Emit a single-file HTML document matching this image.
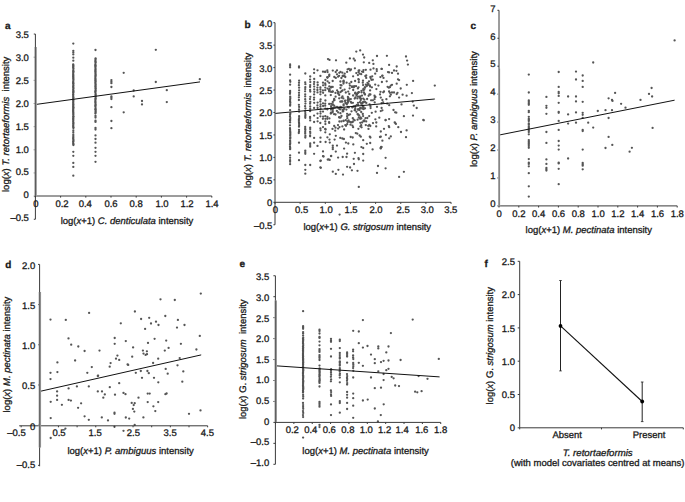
<!DOCTYPE html>
<html><head><meta charset="utf-8"><style>
html,body{margin:0;padding:0;background:#fff;}
svg{display:block;}
text{font-family:"Liberation Sans", sans-serif;fill:#1a1a1a;stroke:#1a1a1a;stroke-width:0.3px;text-rendering:geometricPrecision;}
</style></head><body>
<svg width="685" height="502" viewBox="0 0 685 502">
<rect width="685" height="502" fill="#fff"/>
<g fill="#555555"><circle cx="73.3" cy="43.6" r="1.15"/><circle cx="73.3" cy="50.8" r="1.15"/><circle cx="73.3" cy="52.4" r="1.15"/><circle cx="73.3" cy="54.4" r="1.15"/><circle cx="73.3" cy="57.7" r="1.15"/><circle cx="73.3" cy="60.7" r="1.15"/><circle cx="73.3" cy="130.3" r="1.15"/><circle cx="73.3" cy="132.2" r="1.15"/><circle cx="73.3" cy="134.3" r="1.15"/><circle cx="73.3" cy="136.0" r="1.15"/><circle cx="73.3" cy="151.8" r="1.15"/><circle cx="73.3" cy="155.8" r="1.15"/><circle cx="73.3" cy="162.9" r="1.15"/><circle cx="73.3" cy="166.9" r="1.15"/><circle cx="73.3" cy="175.7" r="1.15"/><circle cx="95.5" cy="50.0" r="1.15"/><circle cx="95.5" cy="115.9" r="1.15"/><circle cx="95.5" cy="117.5" r="1.15"/><circle cx="95.5" cy="120.7" r="1.15"/><circle cx="95.5" cy="121.9" r="1.15"/><circle cx="95.5" cy="127.9" r="1.15"/><circle cx="95.5" cy="129.5" r="1.15"/><circle cx="95.5" cy="135.4" r="1.15"/><circle cx="95.5" cy="139.0" r="1.15"/><circle cx="95.5" cy="142.7" r="1.15"/><circle cx="95.5" cy="147.8" r="1.15"/><circle cx="95.5" cy="151.8" r="1.15"/><circle cx="95.5" cy="155.8" r="1.15"/><circle cx="95.5" cy="161.8" r="1.15"/><circle cx="111.4" cy="80.1" r="1.15"/><circle cx="111.4" cy="81.7" r="1.15"/><circle cx="111.4" cy="83.2" r="1.15"/><circle cx="111.4" cy="87.0" r="1.15"/><circle cx="111.4" cy="96.4" r="1.15"/><circle cx="111.4" cy="97.7" r="1.15"/><circle cx="111.4" cy="99.1" r="1.15"/><circle cx="111.4" cy="107.2" r="1.15"/><circle cx="111.4" cy="121.0" r="1.15"/><circle cx="111.4" cy="128.2" r="1.15"/><circle cx="123.7" cy="72.8" r="1.15"/><circle cx="123.7" cy="112.3" r="1.15"/><circle cx="133.7" cy="90.5" r="1.15"/><circle cx="133.7" cy="96.4" r="1.15"/><circle cx="142.0" cy="101.0" r="1.15"/><circle cx="142.0" cy="104.4" r="1.15"/><circle cx="155.8" cy="49.8" r="1.15"/><circle cx="155.8" cy="82.0" r="1.15"/><circle cx="166.8" cy="90.2" r="1.15"/><circle cx="166.8" cy="102.1" r="1.15"/><circle cx="199.8" cy="79.2" r="1.15"/><circle cx="290.1" cy="64.3" r="1.15"/><circle cx="290.1" cy="65.8" r="1.15"/><circle cx="290.1" cy="67.3" r="1.15"/><circle cx="290.1" cy="74.7" r="1.15"/><circle cx="290.1" cy="155.4" r="1.15"/><circle cx="290.1" cy="157.8" r="1.15"/><circle cx="290.1" cy="160.2" r="1.15"/><circle cx="290.1" cy="161.8" r="1.15"/><circle cx="290.1" cy="164.2" r="1.15"/><circle cx="299.0" cy="66.4" r="1.15"/><circle cx="299.0" cy="67.5" r="1.15"/><circle cx="299.1" cy="80.7" r="1.15"/><circle cx="299.0" cy="82.8" r="1.15"/><circle cx="298.9" cy="85.2" r="1.15"/><circle cx="299.1" cy="87.7" r="1.15"/><circle cx="299.1" cy="90.3" r="1.15"/><circle cx="299.0" cy="92.8" r="1.15"/><circle cx="299.0" cy="95.2" r="1.15"/><circle cx="298.9" cy="97.3" r="1.15"/><circle cx="298.9" cy="100.0" r="1.15"/><circle cx="298.9" cy="104.8" r="1.15"/><circle cx="299.1" cy="106.9" r="1.15"/><circle cx="299.0" cy="109.5" r="1.15"/><circle cx="299.1" cy="111.7" r="1.15"/><circle cx="299.0" cy="142.7" r="1.15"/><circle cx="299.0" cy="152.7" r="1.15"/><circle cx="299.0" cy="160.2" r="1.15"/><circle cx="305.3" cy="73.5" r="1.15"/><circle cx="305.2" cy="82.3" r="1.15"/><circle cx="305.4" cy="84.2" r="1.15"/><circle cx="305.3" cy="87.2" r="1.15"/><circle cx="305.2" cy="89.1" r="1.15"/><circle cx="305.1" cy="91.3" r="1.15"/><circle cx="305.2" cy="94.3" r="1.15"/><circle cx="305.2" cy="96.4" r="1.15"/><circle cx="305.2" cy="99.2" r="1.15"/><circle cx="305.4" cy="101.3" r="1.15"/><circle cx="305.4" cy="103.6" r="1.15"/><circle cx="305.1" cy="106.2" r="1.15"/><circle cx="305.4" cy="108.5" r="1.15"/><circle cx="305.1" cy="111.1" r="1.15"/><circle cx="305.2" cy="127.0" r="1.15"/><circle cx="305.2" cy="128.8" r="1.15"/><circle cx="305.3" cy="130.0" r="1.15"/><circle cx="305.2" cy="132.0" r="1.15"/><circle cx="305.2" cy="133.7" r="1.15"/><circle cx="305.4" cy="135.9" r="1.15"/><circle cx="305.3" cy="137.5" r="1.15"/><circle cx="305.3" cy="150.6" r="1.15"/><circle cx="305.3" cy="152.2" r="1.15"/><circle cx="305.3" cy="153.8" r="1.15"/><circle cx="305.3" cy="165.0" r="1.15"/><circle cx="305.3" cy="169.8" r="1.15"/><circle cx="305.3" cy="173.7" r="1.15"/><circle cx="310.2" cy="76.5" r="1.15"/><circle cx="310.1" cy="79.6" r="1.15"/><circle cx="310.3" cy="82.1" r="1.15"/><circle cx="310.2" cy="85.1" r="1.15"/><circle cx="310.1" cy="87.0" r="1.15"/><circle cx="310.1" cy="90.0" r="1.15"/><circle cx="310.3" cy="91.6" r="1.15"/><circle cx="310.3" cy="96.8" r="1.15"/><circle cx="310.0" cy="99.1" r="1.15"/><circle cx="310.3" cy="101.9" r="1.15"/><circle cx="310.1" cy="103.7" r="1.15"/><circle cx="310.2" cy="106.5" r="1.15"/><circle cx="310.2" cy="108.9" r="1.15"/><circle cx="310.1" cy="111.2" r="1.15"/><circle cx="310.1" cy="116.9" r="1.15"/><circle cx="310.1" cy="118.1" r="1.15"/><circle cx="310.2" cy="120.4" r="1.15"/><circle cx="310.2" cy="127.6" r="1.15"/><circle cx="310.2" cy="129.1" r="1.15"/><circle cx="310.1" cy="131.7" r="1.15"/><circle cx="310.3" cy="133.1" r="1.15"/><circle cx="310.1" cy="135.3" r="1.15"/><circle cx="310.1" cy="136.3" r="1.15"/><circle cx="310.2" cy="143.5" r="1.15"/><circle cx="310.2" cy="145.1" r="1.15"/><circle cx="310.2" cy="146.7" r="1.15"/><circle cx="310.2" cy="165.0" r="1.15"/><circle cx="314.1" cy="69.3" r="1.15"/><circle cx="314.1" cy="72.9" r="1.15"/><circle cx="314.2" cy="78.9" r="1.15"/><circle cx="314.2" cy="81.9" r="1.15"/><circle cx="314.0" cy="84.1" r="1.15"/><circle cx="314.2" cy="86.6" r="1.15"/><circle cx="314.2" cy="89.4" r="1.15"/><circle cx="314.3" cy="91.8" r="1.15"/><circle cx="314.1" cy="94.4" r="1.15"/><circle cx="314.1" cy="97.6" r="1.15"/><circle cx="314.0" cy="99.6" r="1.15"/><circle cx="314.2" cy="102.8" r="1.15"/><circle cx="314.1" cy="108.0" r="1.15"/><circle cx="314.1" cy="115.6" r="1.15"/><circle cx="314.1" cy="122.0" r="1.15"/><circle cx="314.1" cy="137.9" r="1.15"/><circle cx="314.1" cy="142.7" r="1.15"/><circle cx="314.1" cy="153.8" r="1.15"/><circle cx="317.5" cy="70.3" r="1.15"/><circle cx="317.6" cy="82.4" r="1.15"/><circle cx="317.7" cy="85.0" r="1.15"/><circle cx="317.4" cy="87.6" r="1.15"/><circle cx="317.4" cy="90.0" r="1.15"/><circle cx="317.5" cy="92.4" r="1.15"/><circle cx="317.6" cy="102.6" r="1.15"/><circle cx="317.4" cy="105.4" r="1.15"/><circle cx="317.6" cy="108.0" r="1.15"/><circle cx="317.5" cy="113.6" r="1.15"/><circle cx="317.6" cy="118.1" r="1.15"/><circle cx="317.6" cy="121.3" r="1.15"/><circle cx="317.5" cy="145.9" r="1.15"/><circle cx="320.4" cy="75.9" r="1.15"/><circle cx="320.4" cy="87.5" r="1.15"/><circle cx="320.4" cy="89.5" r="1.15"/><circle cx="320.5" cy="91.9" r="1.15"/><circle cx="320.4" cy="94.3" r="1.15"/><circle cx="320.6" cy="99.4" r="1.15"/><circle cx="320.3" cy="101.5" r="1.15"/><circle cx="320.6" cy="104.5" r="1.15"/><circle cx="320.4" cy="106.4" r="1.15"/><circle cx="320.6" cy="108.6" r="1.15"/><circle cx="320.5" cy="111.6" r="1.15"/><circle cx="320.5" cy="113.6" r="1.15"/><circle cx="320.4" cy="116.3" r="1.15"/><circle cx="320.3" cy="123.0" r="1.15"/><circle cx="320.4" cy="128.5" r="1.15"/><circle cx="320.6" cy="130.3" r="1.15"/><circle cx="320.5" cy="137.7" r="1.15"/><circle cx="320.4" cy="141.9" r="1.15"/><circle cx="320.4" cy="161.0" r="1.15"/><circle cx="320.4" cy="167.4" r="1.15"/><circle cx="323.0" cy="71.7" r="1.15"/><circle cx="323.0" cy="82.7" r="1.15"/><circle cx="323.1" cy="85.3" r="1.15"/><circle cx="322.9" cy="90.5" r="1.15"/><circle cx="323.1" cy="92.8" r="1.15"/><circle cx="323.0" cy="103.3" r="1.15"/><circle cx="323.1" cy="106.0" r="1.15"/><circle cx="323.0" cy="111.6" r="1.15"/><circle cx="323.1" cy="116.7" r="1.15"/><circle cx="322.9" cy="118.8" r="1.15"/><circle cx="323.0" cy="127.1" r="1.15"/><circle cx="323.0" cy="151.4" r="1.15"/><circle cx="323.0" cy="156.2" r="1.15"/><circle cx="325.3" cy="71.7" r="1.15"/><circle cx="325.4" cy="80.0" r="1.15"/><circle cx="325.4" cy="84.9" r="1.15"/><circle cx="325.3" cy="87.6" r="1.15"/><circle cx="325.2" cy="90.2" r="1.15"/><circle cx="325.3" cy="95.4" r="1.15"/><circle cx="325.4" cy="100.5" r="1.15"/><circle cx="325.2" cy="103.6" r="1.15"/><circle cx="325.2" cy="105.7" r="1.15"/><circle cx="325.3" cy="108.7" r="1.15"/><circle cx="325.3" cy="116.2" r="1.15"/><circle cx="325.4" cy="118.8" r="1.15"/><circle cx="325.3" cy="121.5" r="1.15"/><circle cx="325.4" cy="124.1" r="1.15"/><circle cx="325.2" cy="129.0" r="1.15"/><circle cx="325.3" cy="132.3" r="1.15"/><circle cx="356.3" cy="51.6" r="1.15"/><circle cx="360.2" cy="50.4" r="1.15"/><circle cx="363.0" cy="54.6" r="1.15"/><circle cx="364.2" cy="57.5" r="1.15"/><circle cx="377.0" cy="56.0" r="1.15"/><circle cx="328.0" cy="59.1" r="1.15"/><circle cx="329.5" cy="59.9" r="1.15"/><circle cx="336.0" cy="60.3" r="1.15"/><circle cx="349.9" cy="58.4" r="1.15"/><circle cx="353.7" cy="58.7" r="1.15"/><circle cx="354.9" cy="60.5" r="1.15"/><circle cx="346.3" cy="62.7" r="1.15"/><circle cx="363.8" cy="62.3" r="1.15"/><circle cx="369.2" cy="62.9" r="1.15"/><circle cx="372.8" cy="60.3" r="1.15"/><circle cx="373.4" cy="63.9" r="1.15"/><circle cx="381.7" cy="68.9" r="1.15"/><circle cx="348.9" cy="68.9" r="1.15"/><circle cx="351.0" cy="69.5" r="1.15"/><circle cx="354.9" cy="68.3" r="1.15"/><circle cx="356.3" cy="73.1" r="1.15"/><circle cx="358.5" cy="72.2" r="1.15"/><circle cx="359.6" cy="73.7" r="1.15"/><circle cx="363.5" cy="70.1" r="1.15"/><circle cx="363.2" cy="71.9" r="1.15"/><circle cx="340.5" cy="71.9" r="1.15"/><circle cx="342.3" cy="72.7" r="1.15"/><circle cx="344.7" cy="73.7" r="1.15"/><circle cx="337.0" cy="74.3" r="1.15"/><circle cx="339.1" cy="75.8" r="1.15"/><circle cx="334.3" cy="77.0" r="1.15"/><circle cx="335.8" cy="77.9" r="1.15"/><circle cx="338.1" cy="76.7" r="1.15"/><circle cx="342.9" cy="76.1" r="1.15"/><circle cx="345.3" cy="77.0" r="1.15"/><circle cx="347.1" cy="71.9" r="1.15"/><circle cx="353.1" cy="76.3" r="1.15"/><circle cx="357.9" cy="75.1" r="1.15"/><circle cx="366.2" cy="75.5" r="1.15"/><circle cx="366.2" cy="77.9" r="1.15"/><circle cx="370.4" cy="77.0" r="1.15"/><circle cx="372.2" cy="76.3" r="1.15"/><circle cx="375.2" cy="73.7" r="1.15"/><circle cx="382.3" cy="75.8" r="1.15"/><circle cx="383.5" cy="77.9" r="1.15"/><circle cx="325.0" cy="71.9" r="1.15"/><circle cx="325.6" cy="129.5" r="1.15"/><circle cx="335.2" cy="130.7" r="1.15"/><circle cx="344.1" cy="129.5" r="1.15"/><circle cx="355.8" cy="133.1" r="1.15"/><circle cx="357.3" cy="133.7" r="1.15"/><circle cx="359.6" cy="135.5" r="1.15"/><circle cx="360.8" cy="136.7" r="1.15"/><circle cx="329.8" cy="134.3" r="1.15"/><circle cx="327.4" cy="137.3" r="1.15"/><circle cx="335.8" cy="135.8" r="1.15"/><circle cx="340.3" cy="137.9" r="1.15"/><circle cx="342.3" cy="138.5" r="1.15"/><circle cx="343.9" cy="139.0" r="1.15"/><circle cx="350.7" cy="137.0" r="1.15"/><circle cx="352.7" cy="137.5" r="1.15"/><circle cx="363.2" cy="140.2" r="1.15"/><circle cx="369.8" cy="136.7" r="1.15"/><circle cx="370.4" cy="137.5" r="1.15"/><circle cx="380.0" cy="137.0" r="1.15"/><circle cx="329.5" cy="139.6" r="1.15"/><circle cx="334.6" cy="139.6" r="1.15"/><circle cx="329.8" cy="142.6" r="1.15"/><circle cx="325.6" cy="142.0" r="1.15"/><circle cx="345.9" cy="142.6" r="1.15"/><circle cx="348.3" cy="143.5" r="1.15"/><circle cx="353.3" cy="144.4" r="1.15"/><circle cx="366.8" cy="143.8" r="1.15"/><circle cx="370.2" cy="143.0" r="1.15"/><circle cx="332.8" cy="145.6" r="1.15"/><circle cx="332.8" cy="147.4" r="1.15"/><circle cx="332.8" cy="149.2" r="1.15"/><circle cx="337.0" cy="145.6" r="1.15"/><circle cx="344.1" cy="148.6" r="1.15"/><circle cx="361.4" cy="147.1" r="1.15"/><circle cx="363.2" cy="148.0" r="1.15"/><circle cx="372.6" cy="149.4" r="1.15"/><circle cx="381.2" cy="146.8" r="1.15"/><circle cx="380.6" cy="148.0" r="1.15"/><circle cx="335.8" cy="151.6" r="1.15"/><circle cx="354.9" cy="152.8" r="1.15"/><circle cx="347.1" cy="153.7" r="1.15"/><circle cx="363.2" cy="154.0" r="1.15"/><circle cx="331.0" cy="156.1" r="1.15"/><circle cx="338.1" cy="157.6" r="1.15"/><circle cx="342.7" cy="157.0" r="1.15"/><circle cx="346.5" cy="157.0" r="1.15"/><circle cx="353.7" cy="158.8" r="1.15"/><circle cx="358.5" cy="158.2" r="1.15"/><circle cx="328.6" cy="159.4" r="1.15"/><circle cx="363.2" cy="160.6" r="1.15"/><circle cx="323.6" cy="156.5" r="1.15"/><circle cx="331.2" cy="156.0" r="1.15"/><circle cx="327.7" cy="159.6" r="1.15"/><circle cx="329.7" cy="159.9" r="1.15"/><circle cx="358.8" cy="159.3" r="1.15"/><circle cx="320.8" cy="160.6" r="1.15"/><circle cx="354.0" cy="164.0" r="1.15"/><circle cx="347.1" cy="166.8" r="1.15"/><circle cx="350.1" cy="167.5" r="1.15"/><circle cx="338.4" cy="169.8" r="1.15"/><circle cx="351.9" cy="170.3" r="1.15"/><circle cx="357.5" cy="170.8" r="1.15"/><circle cx="378.0" cy="166.0" r="1.15"/><circle cx="332.8" cy="171.7" r="1.15"/><circle cx="335.8" cy="173.9" r="1.15"/><circle cx="343.0" cy="174.6" r="1.15"/><circle cx="377.0" cy="172.9" r="1.15"/><circle cx="358.8" cy="186.9" r="1.15"/><circle cx="320.8" cy="167.8" r="1.15"/><circle cx="350.1" cy="70.4" r="1.15"/><circle cx="376.7" cy="69.2" r="1.15"/><circle cx="359.3" cy="70.5" r="1.15"/><circle cx="329.3" cy="74.7" r="1.15"/><circle cx="355.1" cy="81.0" r="1.15"/><circle cx="370.7" cy="78.1" r="1.15"/><circle cx="347.6" cy="69.3" r="1.15"/><circle cx="370.5" cy="69.7" r="1.15"/><circle cx="343.6" cy="80.6" r="1.15"/><circle cx="358.4" cy="79.1" r="1.15"/><circle cx="341.4" cy="78.0" r="1.15"/><circle cx="339.3" cy="72.8" r="1.15"/><circle cx="371.4" cy="79.8" r="1.15"/><circle cx="332.8" cy="70.6" r="1.15"/><circle cx="376.8" cy="71.1" r="1.15"/><circle cx="337.0" cy="70.3" r="1.15"/><circle cx="329.2" cy="76.0" r="1.15"/><circle cx="327.3" cy="70.3" r="1.15"/><circle cx="363.0" cy="80.7" r="1.15"/><circle cx="380.4" cy="77.1" r="1.15"/><circle cx="327.6" cy="72.1" r="1.15"/><circle cx="327.5" cy="77.6" r="1.15"/><circle cx="372.8" cy="79.7" r="1.15"/><circle cx="343.5" cy="75.6" r="1.15"/><circle cx="327.4" cy="77.6" r="1.15"/><circle cx="373.5" cy="68.4" r="1.15"/><circle cx="342.7" cy="76.0" r="1.15"/><circle cx="358.8" cy="79.8" r="1.15"/><circle cx="358.6" cy="70.6" r="1.15"/><circle cx="365.8" cy="69.8" r="1.15"/><circle cx="362.1" cy="71.6" r="1.15"/><circle cx="365.3" cy="76.1" r="1.15"/><circle cx="335.7" cy="72.0" r="1.15"/><circle cx="344.5" cy="76.2" r="1.15"/><circle cx="361.2" cy="74.2" r="1.15"/><circle cx="327.4" cy="77.1" r="1.15"/><circle cx="363.3" cy="107.3" r="1.15"/><circle cx="331.1" cy="91.9" r="1.15"/><circle cx="349.3" cy="99.6" r="1.15"/><circle cx="337.1" cy="90.3" r="1.15"/><circle cx="330.8" cy="95.1" r="1.15"/><circle cx="343.6" cy="105.4" r="1.15"/><circle cx="348.0" cy="99.5" r="1.15"/><circle cx="331.2" cy="87.0" r="1.15"/><circle cx="354.7" cy="98.6" r="1.15"/><circle cx="345.1" cy="101.0" r="1.15"/><circle cx="365.9" cy="84.7" r="1.15"/><circle cx="370.1" cy="86.6" r="1.15"/><circle cx="332.7" cy="91.3" r="1.15"/><circle cx="349.6" cy="88.3" r="1.15"/><circle cx="360.3" cy="96.4" r="1.15"/><circle cx="334.2" cy="105.7" r="1.15"/><circle cx="371.9" cy="87.3" r="1.15"/><circle cx="343.4" cy="81.5" r="1.15"/><circle cx="362.0" cy="95.6" r="1.15"/><circle cx="352.0" cy="86.4" r="1.15"/><circle cx="380.0" cy="94.4" r="1.15"/><circle cx="343.3" cy="98.4" r="1.15"/><circle cx="374.7" cy="102.4" r="1.15"/><circle cx="337.0" cy="106.9" r="1.15"/><circle cx="357.4" cy="98.4" r="1.15"/><circle cx="332.6" cy="104.6" r="1.15"/><circle cx="369.0" cy="81.3" r="1.15"/><circle cx="371.1" cy="100.3" r="1.15"/><circle cx="359.6" cy="110.0" r="1.15"/><circle cx="357.9" cy="88.4" r="1.15"/><circle cx="359.6" cy="97.0" r="1.15"/><circle cx="378.4" cy="85.6" r="1.15"/><circle cx="332.6" cy="108.4" r="1.15"/><circle cx="360.7" cy="100.0" r="1.15"/><circle cx="361.5" cy="92.3" r="1.15"/><circle cx="332.5" cy="109.2" r="1.15"/><circle cx="343.6" cy="109.4" r="1.15"/><circle cx="351.9" cy="86.9" r="1.15"/><circle cx="357.0" cy="94.2" r="1.15"/><circle cx="342.7" cy="109.9" r="1.15"/><circle cx="329.2" cy="91.4" r="1.15"/><circle cx="358.0" cy="102.8" r="1.15"/><circle cx="350.8" cy="99.1" r="1.15"/><circle cx="375.4" cy="97.0" r="1.15"/><circle cx="362.2" cy="102.6" r="1.15"/><circle cx="342.5" cy="90.4" r="1.15"/><circle cx="368.4" cy="83.8" r="1.15"/><circle cx="346.7" cy="103.5" r="1.15"/><circle cx="365.0" cy="102.0" r="1.15"/><circle cx="348.2" cy="91.6" r="1.15"/><circle cx="370.6" cy="108.1" r="1.15"/><circle cx="345.8" cy="92.5" r="1.15"/><circle cx="353.6" cy="106.5" r="1.15"/><circle cx="327.4" cy="109.0" r="1.15"/><circle cx="343.5" cy="83.5" r="1.15"/><circle cx="331.1" cy="87.4" r="1.15"/><circle cx="359.1" cy="109.1" r="1.15"/><circle cx="341.5" cy="107.5" r="1.15"/><circle cx="369.6" cy="104.3" r="1.15"/><circle cx="338.0" cy="91.9" r="1.15"/><circle cx="346.6" cy="82.7" r="1.15"/><circle cx="360.0" cy="97.9" r="1.15"/><circle cx="348.4" cy="98.2" r="1.15"/><circle cx="353.2" cy="90.0" r="1.15"/><circle cx="339.2" cy="95.0" r="1.15"/><circle cx="329.5" cy="89.0" r="1.15"/><circle cx="380.5" cy="91.8" r="1.15"/><circle cx="370.5" cy="106.2" r="1.15"/><circle cx="369.8" cy="85.4" r="1.15"/><circle cx="325.2" cy="83.4" r="1.15"/><circle cx="349.9" cy="85.6" r="1.15"/><circle cx="370.4" cy="94.5" r="1.15"/><circle cx="369.4" cy="94.4" r="1.15"/><circle cx="327.6" cy="81.3" r="1.15"/><circle cx="364.3" cy="89.6" r="1.15"/><circle cx="360.0" cy="102.2" r="1.15"/><circle cx="356.0" cy="86.2" r="1.15"/><circle cx="334.1" cy="107.7" r="1.15"/><circle cx="340.4" cy="92.2" r="1.15"/><circle cx="340.4" cy="81.5" r="1.15"/><circle cx="368.6" cy="95.8" r="1.15"/><circle cx="340.5" cy="85.1" r="1.15"/><circle cx="374.5" cy="99.2" r="1.15"/><circle cx="329.5" cy="90.5" r="1.15"/><circle cx="367.9" cy="84.9" r="1.15"/><circle cx="352.3" cy="107.4" r="1.15"/><circle cx="340.5" cy="88.0" r="1.15"/><circle cx="347.6" cy="100.5" r="1.15"/><circle cx="363.1" cy="85.1" r="1.15"/><circle cx="355.4" cy="97.5" r="1.15"/><circle cx="345.4" cy="103.0" r="1.15"/><circle cx="335.5" cy="92.9" r="1.15"/><circle cx="355.1" cy="93.5" r="1.15"/><circle cx="352.9" cy="102.8" r="1.15"/><circle cx="374.5" cy="95.6" r="1.15"/><circle cx="329.2" cy="89.9" r="1.15"/><circle cx="364.8" cy="87.4" r="1.15"/><circle cx="375.2" cy="84.6" r="1.15"/><circle cx="347.7" cy="107.0" r="1.15"/><circle cx="343.7" cy="81.9" r="1.15"/><circle cx="344.6" cy="89.6" r="1.15"/><circle cx="332.7" cy="86.9" r="1.15"/><circle cx="331.2" cy="107.1" r="1.15"/><circle cx="365.1" cy="87.5" r="1.15"/><circle cx="332.7" cy="91.8" r="1.15"/><circle cx="349.5" cy="83.6" r="1.15"/><circle cx="348.4" cy="98.4" r="1.15"/><circle cx="366.3" cy="102.9" r="1.15"/><circle cx="358.5" cy="109.6" r="1.15"/><circle cx="356.5" cy="95.5" r="1.15"/><circle cx="362.4" cy="103.7" r="1.15"/><circle cx="344.3" cy="108.6" r="1.15"/><circle cx="361.2" cy="103.8" r="1.15"/><circle cx="353.1" cy="95.5" r="1.15"/><circle cx="354.1" cy="86.2" r="1.15"/><circle cx="327.5" cy="88.6" r="1.15"/><circle cx="329.2" cy="104.0" r="1.15"/><circle cx="367.1" cy="99.0" r="1.15"/><circle cx="366.8" cy="86.0" r="1.15"/><circle cx="329.2" cy="82.8" r="1.15"/><circle cx="346.4" cy="109.6" r="1.15"/><circle cx="377.0" cy="106.8" r="1.15"/><circle cx="351.3" cy="82.0" r="1.15"/><circle cx="374.8" cy="97.0" r="1.15"/><circle cx="357.7" cy="109.5" r="1.15"/><circle cx="331.1" cy="106.1" r="1.15"/><circle cx="353.2" cy="87.2" r="1.15"/><circle cx="353.8" cy="87.2" r="1.15"/><circle cx="348.5" cy="101.0" r="1.15"/><circle cx="340.3" cy="101.7" r="1.15"/><circle cx="335.4" cy="107.3" r="1.15"/><circle cx="370.1" cy="90.4" r="1.15"/><circle cx="358.8" cy="82.2" r="1.15"/><circle cx="341.4" cy="101.5" r="1.15"/><circle cx="376.4" cy="89.1" r="1.15"/><circle cx="358.5" cy="87.3" r="1.15"/><circle cx="327.3" cy="109.3" r="1.15"/><circle cx="372.9" cy="100.3" r="1.15"/><circle cx="362.8" cy="82.7" r="1.15"/><circle cx="355.3" cy="92.7" r="1.15"/><circle cx="341.5" cy="85.4" r="1.15"/><circle cx="367.5" cy="82.8" r="1.15"/><circle cx="329.2" cy="90.4" r="1.15"/><circle cx="329.3" cy="86.4" r="1.15"/><circle cx="365.0" cy="108.3" r="1.15"/><circle cx="363.4" cy="89.0" r="1.15"/><circle cx="340.3" cy="109.3" r="1.15"/><circle cx="332.7" cy="81.0" r="1.15"/><circle cx="347.9" cy="96.9" r="1.15"/><circle cx="363.3" cy="90.1" r="1.15"/><circle cx="375.4" cy="119.3" r="1.15"/><circle cx="335.5" cy="114.5" r="1.15"/><circle cx="343.3" cy="111.2" r="1.15"/><circle cx="350.5" cy="124.7" r="1.15"/><circle cx="345.3" cy="125.1" r="1.15"/><circle cx="370.3" cy="126.0" r="1.15"/><circle cx="346.0" cy="125.8" r="1.15"/><circle cx="330.8" cy="113.5" r="1.15"/><circle cx="347.8" cy="122.0" r="1.15"/><circle cx="332.5" cy="128.9" r="1.15"/><circle cx="361.2" cy="125.2" r="1.15"/><circle cx="338.1" cy="128.6" r="1.15"/><circle cx="363.1" cy="116.1" r="1.15"/><circle cx="350.1" cy="114.3" r="1.15"/><circle cx="347.1" cy="113.8" r="1.15"/><circle cx="376.3" cy="122.5" r="1.15"/><circle cx="329.4" cy="118.4" r="1.15"/><circle cx="355.1" cy="110.2" r="1.15"/><circle cx="339.4" cy="117.6" r="1.15"/><circle cx="361.6" cy="127.3" r="1.15"/><circle cx="362.1" cy="122.5" r="1.15"/><circle cx="353.1" cy="127.2" r="1.15"/><circle cx="329.2" cy="122.9" r="1.15"/><circle cx="379.3" cy="117.7" r="1.15"/><circle cx="369.2" cy="116.1" r="1.15"/><circle cx="334.1" cy="114.2" r="1.15"/><circle cx="358.4" cy="128.8" r="1.15"/><circle cx="352.8" cy="121.7" r="1.15"/><circle cx="373.0" cy="123.1" r="1.15"/><circle cx="366.2" cy="121.4" r="1.15"/><circle cx="347.5" cy="121.3" r="1.15"/><circle cx="340.6" cy="117.6" r="1.15"/><circle cx="334.2" cy="126.0" r="1.15"/><circle cx="342.4" cy="126.4" r="1.15"/><circle cx="369.3" cy="125.0" r="1.15"/><circle cx="338.0" cy="125.1" r="1.15"/><circle cx="376.2" cy="126.4" r="1.15"/><circle cx="342.7" cy="111.4" r="1.15"/><circle cx="352.8" cy="118.2" r="1.15"/><circle cx="339.4" cy="121.5" r="1.15"/><circle cx="368.5" cy="128.9" r="1.15"/><circle cx="371.8" cy="112.8" r="1.15"/><circle cx="353.7" cy="119.6" r="1.15"/><circle cx="359.2" cy="115.4" r="1.15"/><circle cx="335.5" cy="127.7" r="1.15"/><circle cx="367.3" cy="118.0" r="1.15"/><circle cx="360.3" cy="122.8" r="1.15"/><circle cx="352.4" cy="125.6" r="1.15"/><circle cx="375.6" cy="111.7" r="1.15"/><circle cx="339.5" cy="127.1" r="1.15"/><circle cx="327.3" cy="118.8" r="1.15"/><circle cx="351.5" cy="111.3" r="1.15"/><circle cx="362.8" cy="114.0" r="1.15"/><circle cx="349.9" cy="121.8" r="1.15"/><circle cx="332.6" cy="112.3" r="1.15"/><circle cx="345.8" cy="120.2" r="1.15"/><circle cx="338.2" cy="112.4" r="1.15"/><circle cx="357.6" cy="114.1" r="1.15"/><circle cx="360.4" cy="126.4" r="1.15"/><circle cx="331.0" cy="113.0" r="1.15"/><circle cx="336.9" cy="110.9" r="1.15"/><circle cx="347.1" cy="116.2" r="1.15"/><circle cx="360.6" cy="117.5" r="1.15"/><circle cx="347.3" cy="118.2" r="1.15"/><circle cx="348.6" cy="120.4" r="1.15"/><circle cx="347.2" cy="124.2" r="1.15"/><circle cx="327.4" cy="116.9" r="1.15"/><circle cx="341.5" cy="116.0" r="1.15"/><circle cx="365.8" cy="125.1" r="1.15"/><circle cx="368.2" cy="125.8" r="1.15"/><circle cx="332.8" cy="111.1" r="1.15"/><circle cx="329.1" cy="122.1" r="1.15"/><circle cx="363.7" cy="109.1" r="1.15"/><circle cx="331.1" cy="103.8" r="1.15"/><circle cx="354.7" cy="120.3" r="1.15"/><circle cx="332.8" cy="104.5" r="1.15"/><circle cx="357.0" cy="104.8" r="1.15"/><circle cx="345.2" cy="100.6" r="1.15"/><circle cx="356.3" cy="93.8" r="1.15"/><circle cx="360.1" cy="108.1" r="1.15"/><circle cx="334.0" cy="100.2" r="1.15"/><circle cx="364.4" cy="120.4" r="1.15"/><circle cx="338.1" cy="107.7" r="1.15"/><circle cx="360.1" cy="118.8" r="1.15"/><circle cx="346.8" cy="104.3" r="1.15"/><circle cx="343.6" cy="120.6" r="1.15"/><circle cx="347.8" cy="102.8" r="1.15"/><circle cx="357.9" cy="114.5" r="1.15"/><circle cx="335.6" cy="96.7" r="1.15"/><circle cx="342.4" cy="101.5" r="1.15"/><circle cx="351.3" cy="102.8" r="1.15"/><circle cx="350.8" cy="101.8" r="1.15"/><circle cx="351.0" cy="122.4" r="1.15"/><circle cx="341.6" cy="97.7" r="1.15"/><circle cx="339.4" cy="109.0" r="1.15"/><circle cx="339.1" cy="117.2" r="1.15"/><circle cx="343.6" cy="104.3" r="1.15"/><circle cx="352.3" cy="122.2" r="1.15"/><circle cx="362.7" cy="106.1" r="1.15"/><circle cx="338.2" cy="93.4" r="1.15"/><circle cx="341.6" cy="91.2" r="1.15"/><circle cx="355.2" cy="108.2" r="1.15"/><circle cx="341.4" cy="121.4" r="1.15"/><circle cx="357.7" cy="93.2" r="1.15"/><circle cx="358.1" cy="96.6" r="1.15"/><circle cx="349.3" cy="94.0" r="1.15"/><circle cx="357.6" cy="119.7" r="1.15"/><circle cx="363.3" cy="102.0" r="1.15"/><circle cx="364.3" cy="99.6" r="1.15"/><circle cx="361.0" cy="98.7" r="1.15"/><circle cx="339.1" cy="107.7" r="1.15"/><circle cx="339.2" cy="98.3" r="1.15"/><circle cx="334.2" cy="99.0" r="1.15"/><circle cx="340.4" cy="106.8" r="1.15"/><circle cx="361.3" cy="118.4" r="1.15"/><circle cx="360.8" cy="107.9" r="1.15"/><circle cx="356.4" cy="111.8" r="1.15"/><circle cx="363.2" cy="98.6" r="1.15"/><circle cx="332.8" cy="102.0" r="1.15"/><circle cx="358.2" cy="104.9" r="1.15"/><circle cx="343.6" cy="121.1" r="1.15"/><circle cx="348.2" cy="101.5" r="1.15"/><circle cx="338.3" cy="93.6" r="1.15"/><circle cx="363.9" cy="92.4" r="1.15"/><circle cx="362.3" cy="108.7" r="1.15"/><circle cx="334.4" cy="100.2" r="1.15"/><circle cx="361.2" cy="112.0" r="1.15"/><circle cx="332.5" cy="108.8" r="1.15"/><circle cx="365.5" cy="118.2" r="1.15"/><circle cx="358.3" cy="92.5" r="1.15"/><circle cx="348.8" cy="107.4" r="1.15"/><circle cx="342.5" cy="96.5" r="1.15"/><circle cx="355.3" cy="106.0" r="1.15"/><circle cx="332.6" cy="108.4" r="1.15"/><circle cx="365.0" cy="94.5" r="1.15"/><circle cx="340.4" cy="113.2" r="1.15"/><circle cx="364.0" cy="121.3" r="1.15"/><circle cx="363.5" cy="120.9" r="1.15"/><circle cx="331.0" cy="109.5" r="1.15"/><circle cx="354.7" cy="110.2" r="1.15"/><circle cx="363.4" cy="107.1" r="1.15"/><circle cx="364.4" cy="93.7" r="1.15"/><circle cx="361.5" cy="90.8" r="1.15"/><circle cx="331.2" cy="112.7" r="1.15"/><circle cx="348.7" cy="115.0" r="1.15"/><circle cx="358.9" cy="92.2" r="1.15"/><circle cx="358.8" cy="117.5" r="1.15"/><circle cx="386.9" cy="55.8" r="1.15"/><circle cx="406.0" cy="56.5" r="1.15"/><circle cx="407.1" cy="60.6" r="1.15"/><circle cx="407.9" cy="64.6" r="1.15"/><circle cx="389.1" cy="64.9" r="1.15"/><circle cx="396.7" cy="66.5" r="1.15"/><circle cx="381.6" cy="68.9" r="1.15"/><circle cx="388.0" cy="72.1" r="1.15"/><circle cx="389.1" cy="72.4" r="1.15"/><circle cx="392.0" cy="72.9" r="1.15"/><circle cx="394.0" cy="70.5" r="1.15"/><circle cx="396.4" cy="70.8" r="1.15"/><circle cx="398.0" cy="73.7" r="1.15"/><circle cx="382.4" cy="75.6" r="1.15"/><circle cx="398.0" cy="79.3" r="1.15"/><circle cx="399.1" cy="80.1" r="1.15"/><circle cx="413.1" cy="80.9" r="1.15"/><circle cx="381.9" cy="82.0" r="1.15"/><circle cx="386.7" cy="81.3" r="1.15"/><circle cx="392.0" cy="84.8" r="1.15"/><circle cx="390.8" cy="85.6" r="1.15"/><circle cx="396.7" cy="83.7" r="1.15"/><circle cx="387.6" cy="86.8" r="1.15"/><circle cx="388.8" cy="87.7" r="1.15"/><circle cx="389.9" cy="87.2" r="1.15"/><circle cx="400.7" cy="88.5" r="1.15"/><circle cx="406.8" cy="84.8" r="1.15"/><circle cx="384.0" cy="91.5" r="1.15"/><circle cx="383.2" cy="92.3" r="1.15"/><circle cx="389.1" cy="91.5" r="1.15"/><circle cx="389.9" cy="92.8" r="1.15"/><circle cx="392.0" cy="92.5" r="1.15"/><circle cx="394.0" cy="92.5" r="1.15"/><circle cx="390.8" cy="94.7" r="1.15"/><circle cx="389.9" cy="96.3" r="1.15"/><circle cx="397.5" cy="92.8" r="1.15"/><circle cx="396.7" cy="94.1" r="1.15"/><circle cx="402.6" cy="94.7" r="1.15"/><circle cx="406.6" cy="95.7" r="1.15"/><circle cx="411.9" cy="93.1" r="1.15"/><circle cx="399.1" cy="97.6" r="1.15"/><circle cx="380.8" cy="97.6" r="1.15"/><circle cx="382.4" cy="100.0" r="1.15"/><circle cx="386.4" cy="99.2" r="1.15"/><circle cx="381.6" cy="103.2" r="1.15"/><circle cx="383.2" cy="102.4" r="1.15"/><circle cx="387.2" cy="103.6" r="1.15"/><circle cx="389.2" cy="105.2" r="1.15"/><circle cx="401.5" cy="104.4" r="1.15"/><circle cx="412.7" cy="101.6" r="1.15"/><circle cx="413.8" cy="105.6" r="1.15"/><circle cx="416.7" cy="108.0" r="1.15"/><circle cx="381.6" cy="108.0" r="1.15"/><circle cx="382.4" cy="110.3" r="1.15"/><circle cx="380.8" cy="111.1" r="1.15"/><circle cx="393.5" cy="110.0" r="1.15"/><circle cx="395.1" cy="112.3" r="1.15"/><circle cx="396.3" cy="112.7" r="1.15"/><circle cx="403.9" cy="116.2" r="1.15"/><circle cx="413.0" cy="115.6" r="1.15"/><circle cx="423.3" cy="119.9" r="1.15"/><circle cx="385.6" cy="119.9" r="1.15"/><circle cx="389.1" cy="119.1" r="1.15"/><circle cx="395.1" cy="122.8" r="1.15"/><circle cx="395.9" cy="123.9" r="1.15"/><circle cx="385.6" cy="120.3" r="1.15"/><circle cx="394.7" cy="122.4" r="1.15"/><circle cx="388.8" cy="126.1" r="1.15"/><circle cx="389.2" cy="127.2" r="1.15"/><circle cx="398.3" cy="127.2" r="1.15"/><circle cx="384.0" cy="128.8" r="1.15"/><circle cx="380.8" cy="131.5" r="1.15"/><circle cx="401.0" cy="132.0" r="1.15"/><circle cx="406.6" cy="130.4" r="1.15"/><circle cx="385.9" cy="134.8" r="1.15"/><circle cx="390.8" cy="136.4" r="1.15"/><circle cx="389.2" cy="138.3" r="1.15"/><circle cx="380.8" cy="136.7" r="1.15"/><circle cx="382.4" cy="140.7" r="1.15"/><circle cx="406.0" cy="137.2" r="1.15"/><circle cx="381.6" cy="147.1" r="1.15"/><circle cx="380.8" cy="148.4" r="1.15"/><circle cx="385.6" cy="157.8" r="1.15"/><circle cx="385.6" cy="168.3" r="1.15"/><circle cx="403.9" cy="171.8" r="1.15"/><circle cx="399.1" cy="176.9" r="1.15"/><circle cx="423.8" cy="120.3" r="1.15"/><circle cx="434.8" cy="85.6" r="1.15"/><circle cx="339.6" cy="214.6" r="1.15"/><circle cx="528.8" cy="74.6" r="1.15"/><circle cx="528.8" cy="92.5" r="1.15"/><circle cx="528.8" cy="100.5" r="1.15"/><circle cx="528.8" cy="102.0" r="1.15"/><circle cx="528.8" cy="103.5" r="1.15"/><circle cx="528.8" cy="104.8" r="1.15"/><circle cx="528.8" cy="110.8" r="1.15"/><circle cx="528.8" cy="112.2" r="1.15"/><circle cx="528.8" cy="116.8" r="1.15"/><circle cx="528.8" cy="118.8" r="1.15"/><circle cx="528.8" cy="119.8" r="1.15"/><circle cx="528.8" cy="121.0" r="1.15"/><circle cx="528.8" cy="123.5" r="1.15"/><circle cx="528.8" cy="124.7" r="1.15"/><circle cx="528.8" cy="126.3" r="1.15"/><circle cx="528.8" cy="127.7" r="1.15"/><circle cx="528.8" cy="128.9" r="1.15"/><circle cx="528.8" cy="130.7" r="1.15"/><circle cx="528.8" cy="132.1" r="1.15"/><circle cx="528.8" cy="134.3" r="1.15"/><circle cx="528.8" cy="140.1" r="1.15"/><circle cx="528.8" cy="141.5" r="1.15"/><circle cx="528.8" cy="142.9" r="1.15"/><circle cx="528.8" cy="144.2" r="1.15"/><circle cx="528.8" cy="146.0" r="1.15"/><circle cx="528.8" cy="147.8" r="1.15"/><circle cx="528.8" cy="159.1" r="1.15"/><circle cx="528.8" cy="162.7" r="1.15"/><circle cx="528.8" cy="163.9" r="1.15"/><circle cx="528.8" cy="166.3" r="1.15"/><circle cx="528.8" cy="173.2" r="1.15"/><circle cx="528.8" cy="186.3" r="1.15"/><circle cx="528.8" cy="196.6" r="1.15"/><circle cx="546.4" cy="96.9" r="1.15"/><circle cx="546.4" cy="105.8" r="1.15"/><circle cx="546.4" cy="107.8" r="1.15"/><circle cx="546.4" cy="113.8" r="1.15"/><circle cx="546.4" cy="132.0" r="1.15"/><circle cx="546.4" cy="142.9" r="1.15"/><circle cx="546.4" cy="159.4" r="1.15"/><circle cx="546.4" cy="163.9" r="1.15"/><circle cx="546.4" cy="168.0" r="1.15"/><circle cx="546.4" cy="169.3" r="1.15"/><circle cx="546.4" cy="170.6" r="1.15"/><circle cx="558.7" cy="72.0" r="1.15"/><circle cx="558.7" cy="86.9" r="1.15"/><circle cx="558.7" cy="91.9" r="1.15"/><circle cx="558.7" cy="93.3" r="1.15"/><circle cx="558.7" cy="95.9" r="1.15"/><circle cx="558.7" cy="102.8" r="1.15"/><circle cx="558.7" cy="111.8" r="1.15"/><circle cx="558.7" cy="112.8" r="1.15"/><circle cx="558.7" cy="120.9" r="1.15"/><circle cx="558.7" cy="129.9" r="1.15"/><circle cx="558.7" cy="141.0" r="1.15"/><circle cx="558.7" cy="145.6" r="1.15"/><circle cx="558.7" cy="149.6" r="1.15"/><circle cx="558.7" cy="162.7" r="1.15"/><circle cx="558.7" cy="163.4" r="1.15"/><circle cx="558.7" cy="168.8" r="1.15"/><circle cx="558.7" cy="184.2" r="1.15"/><circle cx="568.1" cy="96.5" r="1.15"/><circle cx="568.1" cy="114.4" r="1.15"/><circle cx="568.1" cy="123.6" r="1.15"/><circle cx="568.1" cy="158.5" r="1.15"/><circle cx="576.0" cy="71.6" r="1.15"/><circle cx="576.0" cy="79.5" r="1.15"/><circle cx="576.0" cy="96.5" r="1.15"/><circle cx="576.0" cy="101.4" r="1.15"/><circle cx="576.0" cy="112.4" r="1.15"/><circle cx="576.0" cy="122.7" r="1.15"/><circle cx="582.7" cy="75.5" r="1.15"/><circle cx="582.7" cy="80.9" r="1.15"/><circle cx="582.7" cy="86.9" r="1.15"/><circle cx="582.7" cy="101.8" r="1.15"/><circle cx="582.7" cy="112.8" r="1.15"/><circle cx="582.7" cy="114.8" r="1.15"/><circle cx="582.7" cy="117.8" r="1.15"/><circle cx="582.7" cy="129.9" r="1.15"/><circle cx="582.7" cy="131.1" r="1.15"/><circle cx="582.7" cy="149.6" r="1.15"/><circle cx="582.7" cy="163.0" r="1.15"/><circle cx="582.7" cy="164.5" r="1.15"/><circle cx="582.7" cy="165.7" r="1.15"/><circle cx="582.7" cy="169.3" r="1.15"/><circle cx="588.2" cy="122.7" r="1.15"/><circle cx="593.2" cy="62.5" r="1.15"/><circle cx="593.2" cy="127.6" r="1.15"/><circle cx="597.8" cy="111.0" r="1.15"/><circle cx="605.5" cy="110.2" r="1.15"/><circle cx="605.5" cy="148.0" r="1.15"/><circle cx="608.6" cy="98.3" r="1.15"/><circle cx="608.6" cy="118.0" r="1.15"/><circle cx="608.6" cy="136.9" r="1.15"/><circle cx="612.0" cy="99.9" r="1.15"/><circle cx="612.5" cy="100.9" r="1.15"/><circle cx="612.0" cy="110.2" r="1.15"/><circle cx="612.3" cy="144.9" r="1.15"/><circle cx="615.1" cy="92.9" r="1.15"/><circle cx="621.1" cy="103.8" r="1.15"/><circle cx="625.5" cy="107.7" r="1.15"/><circle cx="629.6" cy="151.7" r="1.15"/><circle cx="631.9" cy="147.8" r="1.15"/><circle cx="640.5" cy="99.9" r="1.15"/><circle cx="649.0" cy="93.9" r="1.15"/><circle cx="651.6" cy="88.0" r="1.15"/><circle cx="652.1" cy="96.5" r="1.15"/><circle cx="652.6" cy="127.9" r="1.15"/><circle cx="674.6" cy="40.4" r="1.15"/><circle cx="50.5" cy="319.6" r="1.15"/><circle cx="65.8" cy="319.9" r="1.15"/><circle cx="89.1" cy="312.9" r="1.15"/><circle cx="120.8" cy="323.3" r="1.15"/><circle cx="68.5" cy="338.4" r="1.15"/><circle cx="71.2" cy="344.7" r="1.15"/><circle cx="78.3" cy="346.5" r="1.15"/><circle cx="84.6" cy="351.0" r="1.15"/><circle cx="99.5" cy="350.6" r="1.15"/><circle cx="114.7" cy="338.0" r="1.15"/><circle cx="114.7" cy="343.8" r="1.15"/><circle cx="125.8" cy="341.1" r="1.15"/><circle cx="57.4" cy="362.4" r="1.15"/><circle cx="75.1" cy="360.5" r="1.15"/><circle cx="117.4" cy="355.6" r="1.15"/><circle cx="116.0" cy="358.7" r="1.15"/><circle cx="119.2" cy="359.9" r="1.15"/><circle cx="110.6" cy="363.1" r="1.15"/><circle cx="109.7" cy="366.7" r="1.15"/><circle cx="91.8" cy="367.1" r="1.15"/><circle cx="50.5" cy="372.8" r="1.15"/><circle cx="57.4" cy="372.1" r="1.15"/><circle cx="87.3" cy="372.8" r="1.15"/><circle cx="98.1" cy="375.7" r="1.15"/><circle cx="50.5" cy="379.1" r="1.15"/><circle cx="127.6" cy="364.4" r="1.15"/><circle cx="97.8" cy="376.0" r="1.15"/><circle cx="68.6" cy="388.4" r="1.15"/><circle cx="76.9" cy="386.4" r="1.15"/><circle cx="88.8" cy="386.4" r="1.15"/><circle cx="57.1" cy="391.4" r="1.15"/><circle cx="57.1" cy="395.7" r="1.15"/><circle cx="57.1" cy="399.9" r="1.15"/><circle cx="50.7" cy="401.8" r="1.15"/><circle cx="68.6" cy="399.9" r="1.15"/><circle cx="70.9" cy="400.6" r="1.15"/><circle cx="61.9" cy="404.8" r="1.15"/><circle cx="81.1" cy="403.3" r="1.15"/><circle cx="78.1" cy="407.8" r="1.15"/><circle cx="97.8" cy="391.4" r="1.15"/><circle cx="102.0" cy="391.4" r="1.15"/><circle cx="104.8" cy="394.4" r="1.15"/><circle cx="103.3" cy="397.7" r="1.15"/><circle cx="109.8" cy="387.2" r="1.15"/><circle cx="115.0" cy="394.7" r="1.15"/><circle cx="119.2" cy="383.2" r="1.15"/><circle cx="123.5" cy="392.9" r="1.15"/><circle cx="125.5" cy="394.2" r="1.15"/><circle cx="50.7" cy="418.1" r="1.15"/><circle cx="84.6" cy="416.3" r="1.15"/><circle cx="88.8" cy="419.8" r="1.15"/><circle cx="101.8" cy="417.4" r="1.15"/><circle cx="108.0" cy="420.4" r="1.15"/><circle cx="114.5" cy="412.6" r="1.15"/><circle cx="114.5" cy="413.8" r="1.15"/><circle cx="125.8" cy="417.5" r="1.15"/><circle cx="50.7" cy="438.0" r="1.15"/><circle cx="65.4" cy="428.6" r="1.15"/><circle cx="123.5" cy="430.8" r="1.15"/><circle cx="114.5" cy="426.8" r="1.15"/><circle cx="200.8" cy="293.6" r="1.15"/><circle cx="160.5" cy="299.3" r="1.15"/><circle cx="174.8" cy="300.0" r="1.15"/><circle cx="134.9" cy="311.5" r="1.15"/><circle cx="141.1" cy="319.0" r="1.15"/><circle cx="149.2" cy="317.8" r="1.15"/><circle cx="151.0" cy="323.5" r="1.15"/><circle cx="156.0" cy="321.7" r="1.15"/><circle cx="158.5" cy="325.0" r="1.15"/><circle cx="165.3" cy="316.0" r="1.15"/><circle cx="177.9" cy="319.9" r="1.15"/><circle cx="184.5" cy="325.0" r="1.15"/><circle cx="177.0" cy="327.6" r="1.15"/><circle cx="145.1" cy="328.9" r="1.15"/><circle cx="154.6" cy="338.8" r="1.15"/><circle cx="148.0" cy="342.9" r="1.15"/><circle cx="166.2" cy="340.6" r="1.15"/><circle cx="180.9" cy="343.8" r="1.15"/><circle cx="199.8" cy="335.9" r="1.15"/><circle cx="133.1" cy="347.4" r="1.15"/><circle cx="142.9" cy="350.6" r="1.15"/><circle cx="146.9" cy="351.3" r="1.15"/><circle cx="168.6" cy="347.9" r="1.15"/><circle cx="164.8" cy="350.6" r="1.15"/><circle cx="143.5" cy="353.6" r="1.15"/><circle cx="145.6" cy="354.9" r="1.15"/><circle cx="147.0" cy="354.2" r="1.15"/><circle cx="196.4" cy="349.5" r="1.15"/><circle cx="132.2" cy="356.7" r="1.15"/><circle cx="158.2" cy="358.7" r="1.15"/><circle cx="179.7" cy="358.1" r="1.15"/><circle cx="128.2" cy="364.9" r="1.15"/><circle cx="153.1" cy="363.0" r="1.15"/><circle cx="177.5" cy="365.3" r="1.15"/><circle cx="165.7" cy="368.9" r="1.15"/><circle cx="140.8" cy="371.0" r="1.15"/><circle cx="147.4" cy="371.0" r="1.15"/><circle cx="148.8" cy="373.2" r="1.15"/><circle cx="135.8" cy="372.8" r="1.15"/><circle cx="167.7" cy="373.7" r="1.15"/><circle cx="183.3" cy="371.4" r="1.15"/><circle cx="142.0" cy="377.8" r="1.15"/><circle cx="154.0" cy="377.8" r="1.15"/><circle cx="158.3" cy="382.3" r="1.15"/><circle cx="182.3" cy="381.7" r="1.15"/><circle cx="147.7" cy="393.6" r="1.15"/><circle cx="149.7" cy="393.6" r="1.15"/><circle cx="165.4" cy="394.2" r="1.15"/><circle cx="166.6" cy="393.5" r="1.15"/><circle cx="138.5" cy="397.7" r="1.15"/><circle cx="131.7" cy="402.9" r="1.15"/><circle cx="133.7" cy="405.1" r="1.15"/><circle cx="134.7" cy="403.2" r="1.15"/><circle cx="147.7" cy="402.1" r="1.15"/><circle cx="158.2" cy="402.1" r="1.15"/><circle cx="153.4" cy="406.3" r="1.15"/><circle cx="132.9" cy="408.9" r="1.15"/><circle cx="134.3" cy="411.6" r="1.15"/><circle cx="155.3" cy="411.1" r="1.15"/><circle cx="200.5" cy="410.4" r="1.15"/><circle cx="189.0" cy="413.8" r="1.15"/><circle cx="129.2" cy="418.6" r="1.15"/><circle cx="143.4" cy="417.4" r="1.15"/><circle cx="134.7" cy="425.0" r="1.15"/><circle cx="303.1" cy="311.2" r="1.15"/><circle cx="303.1" cy="326.2" r="1.15"/><circle cx="303.1" cy="327.5" r="1.15"/><circle cx="303.1" cy="328.8" r="1.15"/><circle cx="303.1" cy="332.1" r="1.15"/><circle cx="303.1" cy="333.5" r="1.15"/><circle cx="303.1" cy="335.6" r="1.15"/><circle cx="303.1" cy="394.9" r="1.15"/><circle cx="303.2" cy="396.7" r="1.15"/><circle cx="303.1" cy="398.6" r="1.15"/><circle cx="303.0" cy="402.9" r="1.15"/><circle cx="303.1" cy="405.1" r="1.15"/><circle cx="303.1" cy="407.0" r="1.15"/><circle cx="303.2" cy="408.8" r="1.15"/><circle cx="303.0" cy="411.1" r="1.15"/><circle cx="303.2" cy="412.9" r="1.15"/><circle cx="303.0" cy="415.1" r="1.15"/><circle cx="303.1" cy="417.1" r="1.15"/><circle cx="303.1" cy="437.6" r="1.15"/><circle cx="319.5" cy="329.6" r="1.15"/><circle cx="319.5" cy="331.0" r="1.15"/><circle cx="319.5" cy="333.5" r="1.15"/><circle cx="319.5" cy="337.0" r="1.15"/><circle cx="319.5" cy="337.9" r="1.15"/><circle cx="319.5" cy="341.6" r="1.15"/><circle cx="319.5" cy="345.3" r="1.15"/><circle cx="319.5" cy="349.1" r="1.15"/><circle cx="319.5" cy="350.5" r="1.15"/><circle cx="319.5" cy="351.9" r="1.15"/><circle cx="319.5" cy="355.1" r="1.15"/><circle cx="319.5" cy="356.5" r="1.15"/><circle cx="319.5" cy="357.9" r="1.15"/><circle cx="319.5" cy="360.0" r="1.15"/><circle cx="319.5" cy="365.6" r="1.15"/><circle cx="319.5" cy="386.5" r="1.15"/><circle cx="319.5" cy="401.9" r="1.15"/><circle cx="319.5" cy="403.5" r="1.15"/><circle cx="319.5" cy="405.1" r="1.15"/><circle cx="319.5" cy="406.7" r="1.15"/><circle cx="319.5" cy="424.9" r="1.15"/><circle cx="319.5" cy="427.1" r="1.15"/><circle cx="331.0" cy="338.8" r="1.15"/><circle cx="331.0" cy="340.4" r="1.15"/><circle cx="331.0" cy="341.8" r="1.15"/><circle cx="331.0" cy="348.8" r="1.15"/><circle cx="331.0" cy="356.5" r="1.15"/><circle cx="331.1" cy="369.2" r="1.15"/><circle cx="331.0" cy="370.9" r="1.15"/><circle cx="331.0" cy="372.8" r="1.15"/><circle cx="331.1" cy="374.8" r="1.15"/><circle cx="330.9" cy="376.8" r="1.15"/><circle cx="331.1" cy="379.4" r="1.15"/><circle cx="330.9" cy="381.3" r="1.15"/><circle cx="330.9" cy="390.3" r="1.15"/><circle cx="331.1" cy="392.1" r="1.15"/><circle cx="331.0" cy="394.3" r="1.15"/><circle cx="331.1" cy="395.9" r="1.15"/><circle cx="331.0" cy="404.4" r="1.15"/><circle cx="331.0" cy="415.1" r="1.15"/><circle cx="339.8" cy="339.7" r="1.15"/><circle cx="339.8" cy="341.1" r="1.15"/><circle cx="339.8" cy="348.1" r="1.15"/><circle cx="339.8" cy="353.0" r="1.15"/><circle cx="339.8" cy="355.1" r="1.15"/><circle cx="339.8" cy="357.2" r="1.15"/><circle cx="339.8" cy="358.6" r="1.15"/><circle cx="339.8" cy="361.4" r="1.15"/><circle cx="339.8" cy="362.5" r="1.15"/><circle cx="339.8" cy="364.2" r="1.15"/><circle cx="339.8" cy="365.6" r="1.15"/><circle cx="339.8" cy="368.2" r="1.15"/><circle cx="339.8" cy="369.9" r="1.15"/><circle cx="339.7" cy="371.6" r="1.15"/><circle cx="339.9" cy="373.7" r="1.15"/><circle cx="339.7" cy="375.2" r="1.15"/><circle cx="339.8" cy="377.6" r="1.15"/><circle cx="339.8" cy="382.3" r="1.15"/><circle cx="339.8" cy="401.2" r="1.15"/><circle cx="339.8" cy="403.0" r="1.15"/><circle cx="339.8" cy="412.7" r="1.15"/><circle cx="347.1" cy="352.3" r="1.15"/><circle cx="347.1" cy="353.7" r="1.15"/><circle cx="347.1" cy="355.1" r="1.15"/><circle cx="347.1" cy="356.5" r="1.15"/><circle cx="347.1" cy="362.7" r="1.15"/><circle cx="347.0" cy="374.1" r="1.15"/><circle cx="347.2" cy="376.1" r="1.15"/><circle cx="347.0" cy="377.9" r="1.15"/><circle cx="347.2" cy="379.1" r="1.15"/><circle cx="347.0" cy="380.8" r="1.15"/><circle cx="347.2" cy="383.1" r="1.15"/><circle cx="347.1" cy="384.6" r="1.15"/><circle cx="347.1" cy="392.0" r="1.15"/><circle cx="347.1" cy="394.8" r="1.15"/><circle cx="347.1" cy="397.7" r="1.15"/><circle cx="347.1" cy="402.9" r="1.15"/><circle cx="347.1" cy="409.0" r="1.15"/><circle cx="353.2" cy="330.8" r="1.15"/><circle cx="353.1" cy="349.7" r="1.15"/><circle cx="353.1" cy="351.3" r="1.15"/><circle cx="353.1" cy="355.4" r="1.15"/><circle cx="353.1" cy="357.5" r="1.15"/><circle cx="353.3" cy="359.1" r="1.15"/><circle cx="353.2" cy="363.0" r="1.15"/><circle cx="353.3" cy="364.7" r="1.15"/><circle cx="353.3" cy="366.3" r="1.15"/><circle cx="353.1" cy="368.1" r="1.15"/><circle cx="353.3" cy="370.8" r="1.15"/><circle cx="353.2" cy="377.5" r="1.15"/><circle cx="353.2" cy="393.6" r="1.15"/><circle cx="353.2" cy="398.2" r="1.15"/><circle cx="353.2" cy="405.7" r="1.15"/><circle cx="353.2" cy="417.8" r="1.15"/><circle cx="358.8" cy="331.5" r="1.15"/><circle cx="358.8" cy="343.2" r="1.15"/><circle cx="358.8" cy="362.8" r="1.15"/><circle cx="362.9" cy="320.1" r="1.15"/><circle cx="362.9" cy="347.6" r="1.15"/><circle cx="362.9" cy="365.8" r="1.15"/><circle cx="362.9" cy="400.5" r="1.15"/><circle cx="367.5" cy="346.0" r="1.15"/><circle cx="367.7" cy="399.6" r="1.15"/><circle cx="371.0" cy="354.6" r="1.15"/><circle cx="371.0" cy="377.5" r="1.15"/><circle cx="374.8" cy="359.2" r="1.15"/><circle cx="374.8" cy="363.2" r="1.15"/><circle cx="374.8" cy="388.2" r="1.15"/><circle cx="374.8" cy="408.5" r="1.15"/><circle cx="378.3" cy="346.5" r="1.15"/><circle cx="378.3" cy="348.4" r="1.15"/><circle cx="378.3" cy="371.3" r="1.15"/><circle cx="377.9" cy="421.4" r="1.15"/><circle cx="381.0" cy="362.1" r="1.15"/><circle cx="381.0" cy="387.7" r="1.15"/><circle cx="380.8" cy="415.1" r="1.15"/><circle cx="383.6" cy="360.8" r="1.15"/><circle cx="383.6" cy="374.0" r="1.15"/><circle cx="383.6" cy="380.1" r="1.15"/><circle cx="383.7" cy="404.3" r="1.15"/><circle cx="386.3" cy="352.4" r="1.15"/><circle cx="386.3" cy="370.2" r="1.15"/><circle cx="388.5" cy="346.5" r="1.15"/><circle cx="388.5" cy="360.5" r="1.15"/><circle cx="388.5" cy="368.8" r="1.15"/><circle cx="390.9" cy="333.1" r="1.15"/><circle cx="391.7" cy="376.9" r="1.15"/><circle cx="393.6" cy="378.3" r="1.15"/><circle cx="395.2" cy="385.5" r="1.15"/><circle cx="399.0" cy="386.1" r="1.15"/><circle cx="400.6" cy="360.0" r="1.15"/><circle cx="412.7" cy="319.6" r="1.15"/><circle cx="415.1" cy="391.7" r="1.15"/><circle cx="417.3" cy="392.3" r="1.15"/><circle cx="418.6" cy="376.1" r="1.15"/><circle cx="421.6" cy="391.2" r="1.15"/><circle cx="427.5" cy="378.8" r="1.15"/><circle cx="438.8" cy="358.9" r="1.15"/></g><g fill="#525252"><circle cx="73.2" cy="64.5" r="1.15"/><circle cx="73.3" cy="65.4" r="1.15"/><circle cx="73.3" cy="66.4" r="1.15"/><circle cx="73.2" cy="67.5" r="1.15"/><circle cx="73.4" cy="68.6" r="1.15"/><circle cx="73.3" cy="70.1" r="1.15"/><circle cx="73.3" cy="71.2" r="1.15"/><circle cx="73.4" cy="72.0" r="1.15"/><circle cx="73.2" cy="73.1" r="1.15"/><circle cx="73.2" cy="74.3" r="1.15"/><circle cx="73.3" cy="75.4" r="1.15"/><circle cx="73.2" cy="76.4" r="1.15"/><circle cx="73.3" cy="77.5" r="1.15"/><circle cx="73.3" cy="78.6" r="1.15"/><circle cx="73.4" cy="79.7" r="1.15"/><circle cx="73.3" cy="81.1" r="1.15"/><circle cx="73.2" cy="82.2" r="1.15"/><circle cx="73.3" cy="83.2" r="1.15"/><circle cx="73.3" cy="84.0" r="1.15"/><circle cx="73.4" cy="85.3" r="1.15"/><circle cx="73.2" cy="86.5" r="1.15"/><circle cx="73.3" cy="87.5" r="1.15"/><circle cx="73.4" cy="88.6" r="1.15"/><circle cx="73.2" cy="89.8" r="1.15"/><circle cx="73.4" cy="91.0" r="1.15"/><circle cx="73.3" cy="92.0" r="1.15"/><circle cx="73.3" cy="92.8" r="1.15"/><circle cx="73.2" cy="94.2" r="1.15"/><circle cx="73.2" cy="95.1" r="1.15"/><circle cx="73.2" cy="96.3" r="1.15"/><circle cx="73.4" cy="97.6" r="1.15"/><circle cx="73.2" cy="98.5" r="1.15"/><circle cx="73.4" cy="99.8" r="1.15"/><circle cx="73.2" cy="100.6" r="1.15"/><circle cx="73.3" cy="101.8" r="1.15"/><circle cx="73.2" cy="102.9" r="1.15"/><circle cx="73.3" cy="104.2" r="1.15"/><circle cx="73.3" cy="105.2" r="1.15"/><circle cx="73.2" cy="106.4" r="1.15"/><circle cx="73.4" cy="107.4" r="1.15"/><circle cx="73.3" cy="108.2" r="1.15"/><circle cx="73.2" cy="109.3" r="1.15"/><circle cx="73.2" cy="110.5" r="1.15"/><circle cx="73.2" cy="111.5" r="1.15"/><circle cx="73.3" cy="112.6" r="1.15"/><circle cx="73.3" cy="113.7" r="1.15"/><circle cx="73.3" cy="114.9" r="1.15"/><circle cx="73.4" cy="116.3" r="1.15"/><circle cx="73.3" cy="117.0" r="1.15"/><circle cx="73.3" cy="118.2" r="1.15"/><circle cx="73.2" cy="119.2" r="1.15"/><circle cx="73.3" cy="120.3" r="1.15"/><circle cx="73.2" cy="121.6" r="1.15"/><circle cx="73.4" cy="122.8" r="1.15"/><circle cx="73.3" cy="123.6" r="1.15"/><circle cx="73.3" cy="125.0" r="1.15"/><circle cx="73.2" cy="126.2" r="1.15"/><circle cx="73.4" cy="127.3" r="1.15"/><circle cx="73.4" cy="128.1" r="1.15"/><circle cx="73.3" cy="137.3" r="1.15"/><circle cx="73.2" cy="138.5" r="1.15"/><circle cx="73.4" cy="139.7" r="1.15"/><circle cx="73.4" cy="141.0" r="1.15"/><circle cx="73.2" cy="141.8" r="1.15"/><circle cx="73.2" cy="143.1" r="1.15"/><circle cx="73.4" cy="144.1" r="1.15"/><circle cx="73.4" cy="145.0" r="1.15"/><circle cx="95.6" cy="58.5" r="1.15"/><circle cx="95.5" cy="59.3" r="1.15"/><circle cx="95.4" cy="60.8" r="1.15"/><circle cx="95.5" cy="61.7" r="1.15"/><circle cx="95.6" cy="62.6" r="1.15"/><circle cx="95.4" cy="64.1" r="1.15"/><circle cx="95.4" cy="65.2" r="1.15"/><circle cx="95.5" cy="66.0" r="1.15"/><circle cx="95.4" cy="67.0" r="1.15"/><circle cx="95.5" cy="68.3" r="1.15"/><circle cx="95.5" cy="69.6" r="1.15"/><circle cx="95.4" cy="70.4" r="1.15"/><circle cx="95.4" cy="71.6" r="1.15"/><circle cx="95.5" cy="72.5" r="1.15"/><circle cx="95.5" cy="73.8" r="1.15"/><circle cx="95.6" cy="74.9" r="1.15"/><circle cx="95.5" cy="76.0" r="1.15"/><circle cx="95.4" cy="77.1" r="1.15"/><circle cx="95.4" cy="78.3" r="1.15"/><circle cx="95.5" cy="79.4" r="1.15"/><circle cx="95.4" cy="80.4" r="1.15"/><circle cx="95.6" cy="81.3" r="1.15"/><circle cx="95.4" cy="82.5" r="1.15"/><circle cx="95.5" cy="83.7" r="1.15"/><circle cx="95.6" cy="84.8" r="1.15"/><circle cx="95.5" cy="85.9" r="1.15"/><circle cx="95.5" cy="87.0" r="1.15"/><circle cx="95.6" cy="88.2" r="1.15"/><circle cx="95.6" cy="89.1" r="1.15"/><circle cx="95.6" cy="90.5" r="1.15"/><circle cx="95.4" cy="91.4" r="1.15"/><circle cx="95.4" cy="92.3" r="1.15"/><circle cx="95.6" cy="93.8" r="1.15"/><circle cx="95.6" cy="94.8" r="1.15"/><circle cx="95.6" cy="96.0" r="1.15"/><circle cx="95.6" cy="96.8" r="1.15"/><circle cx="95.6" cy="98.2" r="1.15"/><circle cx="95.5" cy="99.1" r="1.15"/><circle cx="95.4" cy="100.1" r="1.15"/><circle cx="95.4" cy="101.3" r="1.15"/><circle cx="95.4" cy="102.3" r="1.15"/><circle cx="95.5" cy="103.3" r="1.15"/><circle cx="95.6" cy="104.8" r="1.15"/><circle cx="95.4" cy="105.5" r="1.15"/><circle cx="95.4" cy="106.6" r="1.15"/><circle cx="95.6" cy="108.1" r="1.15"/><circle cx="95.4" cy="109.2" r="1.15"/><circle cx="95.6" cy="109.9" r="1.15"/><circle cx="95.6" cy="111.2" r="1.15"/><circle cx="95.6" cy="112.4" r="1.15"/><circle cx="95.4" cy="113.6" r="1.15"/><circle cx="290.1" cy="80.3" r="1.15"/><circle cx="290.3" cy="81.8" r="1.15"/><circle cx="290.1" cy="84.7" r="1.15"/><circle cx="290.1" cy="91.0" r="1.15"/><circle cx="290.1" cy="92.2" r="1.15"/><circle cx="290.0" cy="93.8" r="1.15"/><circle cx="290.2" cy="96.7" r="1.15"/><circle cx="290.3" cy="98.2" r="1.15"/><circle cx="290.1" cy="99.9" r="1.15"/><circle cx="290.1" cy="101.4" r="1.15"/><circle cx="290.3" cy="102.8" r="1.15"/><circle cx="290.2" cy="104.5" r="1.15"/><circle cx="290.1" cy="105.7" r="1.15"/><circle cx="290.1" cy="110.2" r="1.15"/><circle cx="290.3" cy="113.5" r="1.15"/><circle cx="290.1" cy="114.8" r="1.15"/><circle cx="290.0" cy="116.4" r="1.15"/><circle cx="290.3" cy="118.1" r="1.15"/><circle cx="290.1" cy="119.6" r="1.15"/><circle cx="290.1" cy="120.7" r="1.15"/><circle cx="290.1" cy="122.4" r="1.15"/><circle cx="290.0" cy="125.3" r="1.15"/><circle cx="290.0" cy="128.2" r="1.15"/><circle cx="290.1" cy="129.9" r="1.15"/><circle cx="290.2" cy="131.5" r="1.15"/><circle cx="290.3" cy="132.8" r="1.15"/><circle cx="290.3" cy="134.2" r="1.15"/><circle cx="290.2" cy="135.7" r="1.15"/><circle cx="290.3" cy="137.5" r="1.15"/><circle cx="290.2" cy="138.7" r="1.15"/><circle cx="290.1" cy="140.6" r="1.15"/><circle cx="290.2" cy="141.9" r="1.15"/><circle cx="290.2" cy="143.5" r="1.15"/><circle cx="290.0" cy="144.7" r="1.15"/><circle cx="290.0" cy="146.6" r="1.15"/><circle cx="290.2" cy="148.0" r="1.15"/><circle cx="290.1" cy="149.2" r="1.15"/><circle cx="299.1" cy="116.2" r="1.15"/><circle cx="299.1" cy="118.1" r="1.15"/><circle cx="298.9" cy="119.3" r="1.15"/><circle cx="298.9" cy="120.9" r="1.15"/><circle cx="299.0" cy="122.6" r="1.15"/><circle cx="299.1" cy="123.9" r="1.15"/><circle cx="299.1" cy="125.3" r="1.15"/><circle cx="299.0" cy="126.7" r="1.15"/><circle cx="299.0" cy="129.8" r="1.15"/><circle cx="299.0" cy="131.3" r="1.15"/><circle cx="298.8" cy="133.0" r="1.15"/><circle cx="305.3" cy="113.1" r="1.15"/><circle cx="305.4" cy="115.0" r="1.15"/><circle cx="305.3" cy="116.3" r="1.15"/><circle cx="305.3" cy="117.8" r="1.15"/><circle cx="303.2" cy="337.7" r="1.15"/><circle cx="303.0" cy="338.8" r="1.15"/><circle cx="303.2" cy="339.7" r="1.15"/><circle cx="303.1" cy="341.0" r="1.15"/><circle cx="303.0" cy="342.1" r="1.15"/><circle cx="303.0" cy="343.2" r="1.15"/><circle cx="303.2" cy="344.1" r="1.15"/><circle cx="303.2" cy="345.6" r="1.15"/><circle cx="303.0" cy="346.7" r="1.15"/><circle cx="303.2" cy="347.7" r="1.15"/><circle cx="303.0" cy="348.8" r="1.15"/><circle cx="303.1" cy="350.0" r="1.15"/><circle cx="303.0" cy="350.8" r="1.15"/><circle cx="303.1" cy="351.9" r="1.15"/><circle cx="303.0" cy="353.2" r="1.15"/><circle cx="303.0" cy="354.2" r="1.15"/><circle cx="303.0" cy="355.5" r="1.15"/><circle cx="303.1" cy="356.4" r="1.15"/><circle cx="303.0" cy="357.5" r="1.15"/><circle cx="303.1" cy="358.7" r="1.15"/><circle cx="303.1" cy="359.5" r="1.15"/><circle cx="303.1" cy="360.7" r="1.15"/><circle cx="303.2" cy="361.9" r="1.15"/><circle cx="303.1" cy="362.8" r="1.15"/><circle cx="303.1" cy="363.9" r="1.15"/><circle cx="303.1" cy="365.0" r="1.15"/><circle cx="303.0" cy="366.4" r="1.15"/><circle cx="303.1" cy="367.2" r="1.15"/><circle cx="303.1" cy="368.7" r="1.15"/><circle cx="303.2" cy="369.8" r="1.15"/><circle cx="303.2" cy="370.5" r="1.15"/><circle cx="303.1" cy="372.0" r="1.15"/><circle cx="303.0" cy="373.0" r="1.15"/><circle cx="303.0" cy="373.9" r="1.15"/><circle cx="303.0" cy="375.3" r="1.15"/><circle cx="303.2" cy="376.0" r="1.15"/><circle cx="303.2" cy="377.2" r="1.15"/><circle cx="303.1" cy="378.3" r="1.15"/><circle cx="303.0" cy="379.3" r="1.15"/><circle cx="303.2" cy="380.8" r="1.15"/><circle cx="303.2" cy="381.5" r="1.15"/><circle cx="303.1" cy="382.7" r="1.15"/><circle cx="303.1" cy="383.9" r="1.15"/><circle cx="303.0" cy="385.2" r="1.15"/><circle cx="303.1" cy="386.2" r="1.15"/><circle cx="303.2" cy="387.2" r="1.15"/><circle cx="303.2" cy="388.3" r="1.15"/><circle cx="303.2" cy="389.2" r="1.15"/><circle cx="303.0" cy="390.6" r="1.15"/><circle cx="303.1" cy="391.7" r="1.15"/><circle cx="303.0" cy="392.5" r="1.15"/><circle cx="319.6" cy="368.5" r="1.15"/><circle cx="319.6" cy="369.4" r="1.15"/><circle cx="319.5" cy="370.7" r="1.15"/><circle cx="319.6" cy="371.8" r="1.15"/><circle cx="319.6" cy="373.0" r="1.15"/><circle cx="319.5" cy="374.4" r="1.15"/><circle cx="319.6" cy="375.4" r="1.15"/><circle cx="319.4" cy="376.6" r="1.15"/><circle cx="319.6" cy="378.1" r="1.15"/><circle cx="319.6" cy="379.3" r="1.15"/><circle cx="319.6" cy="380.4" r="1.15"/><circle cx="319.4" cy="381.5" r="1.15"/><circle cx="319.5" cy="382.9" r="1.15"/></g>
<text x="5.00" y="29.10" font-size="10" text-anchor="start" font-weight="bold">a</text><line x1="35.40" y1="34.05" x2="35.40" y2="219.25" stroke="#3a3a3a" stroke-width="1.0"/><line x1="35.40" y1="196.00" x2="211.80" y2="196.00" stroke="#3a3a3a" stroke-width="1.0"/><line x1="33.80" y1="34.05" x2="35.40" y2="34.05" stroke="#3a3a3a" stroke-width="1.0"/><text x="28.90" y="37.93" font-size="9.5" text-anchor="end" font-weight="normal">3.5</text><line x1="33.80" y1="57.20" x2="35.40" y2="57.20" stroke="#3a3a3a" stroke-width="1.0"/><text x="28.90" y="60.85" font-size="9.5" text-anchor="end" font-weight="normal">3.0</text><line x1="33.80" y1="80.35" x2="35.40" y2="80.35" stroke="#3a3a3a" stroke-width="1.0"/><text x="28.90" y="83.78" font-size="9.5" text-anchor="end" font-weight="normal">2.5</text><line x1="33.80" y1="103.50" x2="35.40" y2="103.50" stroke="#3a3a3a" stroke-width="1.0"/><text x="28.90" y="106.70" font-size="9.5" text-anchor="end" font-weight="normal">2.0</text><line x1="33.80" y1="126.65" x2="35.40" y2="126.65" stroke="#3a3a3a" stroke-width="1.0"/><text x="28.90" y="129.62" font-size="9.5" text-anchor="end" font-weight="normal">1.5</text><line x1="33.80" y1="149.80" x2="35.40" y2="149.80" stroke="#3a3a3a" stroke-width="1.0"/><text x="28.90" y="152.55" font-size="9.5" text-anchor="end" font-weight="normal">1.0</text><line x1="33.80" y1="172.95" x2="35.40" y2="172.95" stroke="#3a3a3a" stroke-width="1.0"/><text x="28.90" y="175.47" font-size="9.5" text-anchor="end" font-weight="normal">0.5</text><line x1="33.80" y1="196.10" x2="35.40" y2="196.10" stroke="#3a3a3a" stroke-width="1.0"/><text x="28.90" y="198.40" font-size="9.5" text-anchor="end" font-weight="normal">0</text><line x1="33.80" y1="219.25" x2="35.40" y2="219.25" stroke="#3a3a3a" stroke-width="1.0"/><text x="28.90" y="221.33" font-size="9.5" text-anchor="end" font-weight="normal">–0.5</text><line x1="35.40" y1="196.00" x2="35.40" y2="197.60" stroke="#3a3a3a" stroke-width="1.0"/><text x="36.00" y="206.90" font-size="9.5" text-anchor="middle" font-weight="normal">0</text><line x1="60.60" y1="196.00" x2="60.60" y2="197.60" stroke="#3a3a3a" stroke-width="1.0"/><text x="62.00" y="206.90" font-size="9.5" text-anchor="middle" font-weight="normal">0.2</text><line x1="85.80" y1="196.00" x2="85.80" y2="197.60" stroke="#3a3a3a" stroke-width="1.0"/><text x="85.30" y="206.90" font-size="9.5" text-anchor="middle" font-weight="normal">0.4</text><line x1="111.00" y1="196.00" x2="111.00" y2="197.60" stroke="#3a3a3a" stroke-width="1.0"/><text x="111.00" y="206.90" font-size="9.5" text-anchor="middle" font-weight="normal">0.6</text><line x1="136.20" y1="196.00" x2="136.20" y2="197.60" stroke="#3a3a3a" stroke-width="1.0"/><text x="136.10" y="206.90" font-size="9.5" text-anchor="middle" font-weight="normal">0.8</text><line x1="161.40" y1="196.00" x2="161.40" y2="197.60" stroke="#3a3a3a" stroke-width="1.0"/><text x="162.00" y="206.90" font-size="9.5" text-anchor="middle" font-weight="normal">1.0</text><line x1="186.60" y1="196.00" x2="186.60" y2="197.60" stroke="#3a3a3a" stroke-width="1.0"/><text x="187.00" y="206.90" font-size="9.5" text-anchor="middle" font-weight="normal">1.2</text><line x1="211.80" y1="196.00" x2="211.80" y2="197.60" stroke="#3a3a3a" stroke-width="1.0"/><text x="212.00" y="206.90" font-size="9.5" text-anchor="middle" font-weight="normal">1.4</text><text x="60.70" y="224.10" font-size="9.5" text-anchor="start" font-weight="normal" textLength="132.6" lengthAdjust="spacingAndGlyphs">log(<tspan font-style="italic">x</tspan>+1) <tspan font-style="italic">C. denticulata</tspan> intensity</text><text transform="translate(8.50,192.00) rotate(-90)" font-size="9.5" textLength="135.4" lengthAdjust="spacingAndGlyphs">log(<tspan font-style="italic">x</tspan>) <tspan font-style="italic">T. retortaeformis</tspan>  intensity</text><line x1="35.40" y1="104.50" x2="200.00" y2="81.90" stroke="#111" stroke-width="1.0"/><text x="244.60" y="28.30" font-size="10" text-anchor="start" font-weight="bold">b</text><line x1="275.00" y1="22.70" x2="275.00" y2="224.75" stroke="#3a3a3a" stroke-width="1.0"/><line x1="275.00" y1="202.30" x2="451.05" y2="202.30" stroke="#3a3a3a" stroke-width="1.0"/><line x1="273.40" y1="22.70" x2="275.00" y2="22.70" stroke="#3a3a3a" stroke-width="1.0"/><text x="272.40" y="26.60" font-size="9.5" text-anchor="end" font-weight="normal">4.0</text><line x1="273.40" y1="45.15" x2="275.00" y2="45.15" stroke="#3a3a3a" stroke-width="1.0"/><text x="272.40" y="49.05" font-size="9.5" text-anchor="end" font-weight="normal">3.5</text><line x1="273.40" y1="67.60" x2="275.00" y2="67.60" stroke="#3a3a3a" stroke-width="1.0"/><text x="272.40" y="71.50" font-size="9.5" text-anchor="end" font-weight="normal">3.0</text><line x1="273.40" y1="90.05" x2="275.00" y2="90.05" stroke="#3a3a3a" stroke-width="1.0"/><text x="272.40" y="93.95" font-size="9.5" text-anchor="end" font-weight="normal">2.5</text><line x1="273.40" y1="112.50" x2="275.00" y2="112.50" stroke="#3a3a3a" stroke-width="1.0"/><text x="272.40" y="116.40" font-size="9.5" text-anchor="end" font-weight="normal">2.0</text><line x1="273.40" y1="134.95" x2="275.00" y2="134.95" stroke="#3a3a3a" stroke-width="1.0"/><text x="272.40" y="138.85" font-size="9.5" text-anchor="end" font-weight="normal">1.5</text><line x1="273.40" y1="157.40" x2="275.00" y2="157.40" stroke="#3a3a3a" stroke-width="1.0"/><text x="272.40" y="161.30" font-size="9.5" text-anchor="end" font-weight="normal">1.0</text><line x1="273.40" y1="179.85" x2="275.00" y2="179.85" stroke="#3a3a3a" stroke-width="1.0"/><text x="272.40" y="183.75" font-size="9.5" text-anchor="end" font-weight="normal">0.5</text><line x1="273.40" y1="202.30" x2="275.00" y2="202.30" stroke="#3a3a3a" stroke-width="1.0"/><text x="272.40" y="206.20" font-size="9.5" text-anchor="end" font-weight="normal">0</text><line x1="273.40" y1="224.75" x2="275.00" y2="224.75" stroke="#3a3a3a" stroke-width="1.0"/><text x="272.40" y="228.65" font-size="9.5" text-anchor="end" font-weight="normal">–0.5</text><line x1="275.00" y1="202.30" x2="275.00" y2="203.90" stroke="#3a3a3a" stroke-width="1.0"/><text x="275.30" y="213.10" font-size="9.5" text-anchor="middle" font-weight="normal">0</text><line x1="300.15" y1="202.30" x2="300.15" y2="203.90" stroke="#3a3a3a" stroke-width="1.0"/><text x="301.70" y="213.10" font-size="9.5" text-anchor="middle" font-weight="normal">0.5</text><line x1="325.30" y1="202.30" x2="325.30" y2="203.90" stroke="#3a3a3a" stroke-width="1.0"/><text x="326.10" y="213.10" font-size="9.5" text-anchor="middle" font-weight="normal">1.0</text><line x1="350.45" y1="202.30" x2="350.45" y2="203.90" stroke="#3a3a3a" stroke-width="1.0"/><text x="351.00" y="213.10" font-size="9.5" text-anchor="middle" font-weight="normal">1.5</text><line x1="375.60" y1="202.30" x2="375.60" y2="203.90" stroke="#3a3a3a" stroke-width="1.0"/><text x="376.00" y="213.10" font-size="9.5" text-anchor="middle" font-weight="normal">2.0</text><line x1="400.75" y1="202.30" x2="400.75" y2="203.90" stroke="#3a3a3a" stroke-width="1.0"/><text x="403.10" y="213.10" font-size="9.5" text-anchor="middle" font-weight="normal">2.5</text><line x1="425.90" y1="202.30" x2="425.90" y2="203.90" stroke="#3a3a3a" stroke-width="1.0"/><text x="427.30" y="213.10" font-size="9.5" text-anchor="middle" font-weight="normal">3.0</text><line x1="451.05" y1="202.30" x2="451.05" y2="203.90" stroke="#3a3a3a" stroke-width="1.0"/><text x="450.80" y="213.10" font-size="9.5" text-anchor="middle" font-weight="normal">3.5</text><text x="303.40" y="230.00" font-size="9.5" text-anchor="start" font-weight="normal" textLength="127.7" lengthAdjust="spacingAndGlyphs">log(<tspan font-style="italic">x</tspan>+1) <tspan font-style="italic">G. strigosum</tspan> intensity</text><text transform="translate(250.60,187.90) rotate(-90)" font-size="9.5" textLength="135.2" lengthAdjust="spacingAndGlyphs">log(<tspan font-style="italic">x</tspan>) <tspan font-style="italic">T. retortaeformis</tspan>  intensity</text><line x1="275.40" y1="113.40" x2="434.80" y2="99.00" stroke="#111" stroke-width="1.0"/><text x="470.40" y="28.60" font-size="10" text-anchor="start" font-weight="bold">c</text><line x1="499.00" y1="10.32" x2="499.00" y2="205.90" stroke="#3a3a3a" stroke-width="1.0"/><line x1="499.00" y1="205.90" x2="677.20" y2="205.90" stroke="#3a3a3a" stroke-width="1.0"/><line x1="497.40" y1="205.90" x2="499.00" y2="205.90" stroke="#3a3a3a" stroke-width="1.0"/><text x="495.60" y="207.10" font-size="9.5" text-anchor="end" font-weight="normal">0</text><line x1="497.40" y1="177.96" x2="499.00" y2="177.96" stroke="#3a3a3a" stroke-width="1.0"/><text x="495.60" y="179.17" font-size="9.5" text-anchor="end" font-weight="normal">1</text><line x1="497.40" y1="150.02" x2="499.00" y2="150.02" stroke="#3a3a3a" stroke-width="1.0"/><text x="495.60" y="151.24" font-size="9.5" text-anchor="end" font-weight="normal">2</text><line x1="497.40" y1="122.08" x2="499.00" y2="122.08" stroke="#3a3a3a" stroke-width="1.0"/><text x="495.60" y="123.31" font-size="9.5" text-anchor="end" font-weight="normal">3</text><line x1="497.40" y1="94.14" x2="499.00" y2="94.14" stroke="#3a3a3a" stroke-width="1.0"/><text x="495.60" y="95.38" font-size="9.5" text-anchor="end" font-weight="normal">4</text><line x1="497.40" y1="66.20" x2="499.00" y2="66.20" stroke="#3a3a3a" stroke-width="1.0"/><text x="495.60" y="67.45" font-size="9.5" text-anchor="end" font-weight="normal">5</text><line x1="497.40" y1="38.26" x2="499.00" y2="38.26" stroke="#3a3a3a" stroke-width="1.0"/><text x="495.60" y="39.52" font-size="9.5" text-anchor="end" font-weight="normal">6</text><line x1="497.40" y1="10.32" x2="499.00" y2="10.32" stroke="#3a3a3a" stroke-width="1.0"/><text x="495.60" y="11.59" font-size="9.5" text-anchor="end" font-weight="normal">7</text><line x1="499.00" y1="205.90" x2="499.00" y2="207.50" stroke="#3a3a3a" stroke-width="1.0"/><text x="499.10" y="217.20" font-size="9.5" text-anchor="middle" font-weight="normal">0</text><line x1="518.80" y1="205.90" x2="518.80" y2="207.50" stroke="#3a3a3a" stroke-width="1.0"/><text x="518.90" y="217.20" font-size="9.5" text-anchor="middle" font-weight="normal">0.2</text><line x1="538.60" y1="205.90" x2="538.60" y2="207.50" stroke="#3a3a3a" stroke-width="1.0"/><text x="538.70" y="217.20" font-size="9.5" text-anchor="middle" font-weight="normal">0.4</text><line x1="558.40" y1="205.90" x2="558.40" y2="207.50" stroke="#3a3a3a" stroke-width="1.0"/><text x="558.50" y="217.20" font-size="9.5" text-anchor="middle" font-weight="normal">0.6</text><line x1="578.20" y1="205.90" x2="578.20" y2="207.50" stroke="#3a3a3a" stroke-width="1.0"/><text x="578.30" y="217.20" font-size="9.5" text-anchor="middle" font-weight="normal">0.8</text><line x1="598.00" y1="205.90" x2="598.00" y2="207.50" stroke="#3a3a3a" stroke-width="1.0"/><text x="598.10" y="217.20" font-size="9.5" text-anchor="middle" font-weight="normal">1.0</text><line x1="617.80" y1="205.90" x2="617.80" y2="207.50" stroke="#3a3a3a" stroke-width="1.0"/><text x="617.90" y="217.20" font-size="9.5" text-anchor="middle" font-weight="normal">1.2</text><line x1="637.60" y1="205.90" x2="637.60" y2="207.50" stroke="#3a3a3a" stroke-width="1.0"/><text x="637.70" y="217.20" font-size="9.5" text-anchor="middle" font-weight="normal">1.4</text><line x1="657.40" y1="205.90" x2="657.40" y2="207.50" stroke="#3a3a3a" stroke-width="1.0"/><text x="657.50" y="217.20" font-size="9.5" text-anchor="middle" font-weight="normal">1.6</text><line x1="677.20" y1="205.90" x2="677.20" y2="207.50" stroke="#3a3a3a" stroke-width="1.0"/><text x="677.30" y="217.20" font-size="9.5" text-anchor="middle" font-weight="normal">1.8</text><text x="525.60" y="232.70" font-size="9.5" text-anchor="start" font-weight="normal" textLength="126.4" lengthAdjust="spacingAndGlyphs">log(<tspan font-style="italic">x</tspan>+1) <tspan font-style="italic">M. pectinata</tspan> intensity</text><text transform="translate(476.50,167.00) rotate(-90)" font-size="9.5" textLength="115.9" lengthAdjust="spacingAndGlyphs">log(<tspan font-style="italic">x</tspan>) <tspan font-style="italic">P. ambiguus</tspan> intensity</text><line x1="499.30" y1="135.00" x2="674.60" y2="100.20" stroke="#111" stroke-width="1.0"/><text x="5.20" y="268.00" font-size="10" text-anchor="start" font-weight="bold">d</text><line x1="39.60" y1="264.40" x2="39.60" y2="466.30" stroke="#3a3a3a" stroke-width="1.0"/><line x1="19.20" y1="425.80" x2="207.65" y2="425.80" stroke="#3a3a3a" stroke-width="1.0"/><line x1="38.00" y1="264.40" x2="39.60" y2="264.40" stroke="#3a3a3a" stroke-width="1.0"/><text x="35.30" y="268.80" font-size="9.5" text-anchor="end" font-weight="normal">2.0</text><line x1="38.00" y1="304.59" x2="39.60" y2="304.59" stroke="#3a3a3a" stroke-width="1.0"/><text x="35.30" y="308.60" font-size="9.5" text-anchor="end" font-weight="normal">1.5</text><line x1="38.00" y1="344.78" x2="39.60" y2="344.78" stroke="#3a3a3a" stroke-width="1.0"/><text x="35.30" y="349.00" font-size="9.5" text-anchor="end" font-weight="normal">1.0</text><line x1="38.00" y1="384.97" x2="39.60" y2="384.97" stroke="#3a3a3a" stroke-width="1.0"/><text x="35.30" y="388.70" font-size="9.5" text-anchor="end" font-weight="normal">0.5</text><line x1="38.00" y1="425.16" x2="39.60" y2="425.16" stroke="#3a3a3a" stroke-width="1.0"/><text x="35.30" y="430.10" font-size="9.5" text-anchor="end" font-weight="normal">0</text><line x1="38.00" y1="465.35" x2="39.60" y2="465.35" stroke="#3a3a3a" stroke-width="1.0"/><text x="35.30" y="467.50" font-size="9.5" text-anchor="end" font-weight="normal">–0.5</text><line x1="21.15" y1="425.80" x2="21.15" y2="427.30" stroke="#3a3a3a" stroke-width="1.0"/><line x1="39.80" y1="425.80" x2="39.80" y2="427.30" stroke="#3a3a3a" stroke-width="1.0"/><line x1="58.45" y1="425.80" x2="58.45" y2="427.30" stroke="#3a3a3a" stroke-width="1.0"/><line x1="77.10" y1="425.80" x2="77.10" y2="427.30" stroke="#3a3a3a" stroke-width="1.0"/><line x1="95.75" y1="425.80" x2="95.75" y2="427.30" stroke="#3a3a3a" stroke-width="1.0"/><line x1="114.40" y1="425.80" x2="114.40" y2="427.30" stroke="#3a3a3a" stroke-width="1.0"/><line x1="133.05" y1="425.80" x2="133.05" y2="427.30" stroke="#3a3a3a" stroke-width="1.0"/><line x1="151.70" y1="425.80" x2="151.70" y2="427.30" stroke="#3a3a3a" stroke-width="1.0"/><line x1="170.35" y1="425.80" x2="170.35" y2="427.30" stroke="#3a3a3a" stroke-width="1.0"/><line x1="189.00" y1="425.80" x2="189.00" y2="427.30" stroke="#3a3a3a" stroke-width="1.0"/><line x1="207.65" y1="425.80" x2="207.65" y2="427.30" stroke="#3a3a3a" stroke-width="1.0"/><text x="16.50" y="436.40" font-size="9.5" text-anchor="middle" font-weight="normal">–0.5</text><text x="59.00" y="436.40" font-size="9.5" text-anchor="middle" font-weight="normal">0.5</text><text x="95.10" y="436.40" font-size="9.5" text-anchor="middle" font-weight="normal">1.5</text><text x="133.40" y="436.40" font-size="9.5" text-anchor="middle" font-weight="normal">2.5</text><text x="170.20" y="436.40" font-size="9.5" text-anchor="middle" font-weight="normal">3.5</text><text x="207.40" y="436.40" font-size="9.5" text-anchor="middle" font-weight="normal">4.5</text><text x="67.40" y="453.70" font-size="9.5" text-anchor="start" font-weight="normal" textLength="126.4" lengthAdjust="spacingAndGlyphs">log(<tspan font-style="italic">x</tspan>+1) <tspan font-style="italic">P. ambiguus</tspan> intensity</text><text transform="translate(9.60,412.50) rotate(-90)" font-size="9.5" textLength="115.9" lengthAdjust="spacingAndGlyphs">log(<tspan font-style="italic">x</tspan>) <tspan font-style="italic">M. pectinata</tspan> intensity</text><line x1="39.80" y1="391.40" x2="201.20" y2="354.90" stroke="#111" stroke-width="1.0"/><text x="239.40" y="267.20" font-size="10" text-anchor="start" font-weight="bold">e</text><line x1="275.40" y1="275.75" x2="275.40" y2="464.30" stroke="#3a3a3a" stroke-width="1.0"/><line x1="275.40" y1="422.40" x2="440.74" y2="422.40" stroke="#3a3a3a" stroke-width="1.0"/><line x1="273.40" y1="275.75" x2="275.40" y2="275.75" stroke="#3a3a3a" stroke-width="1.0"/><text x="269.30" y="280.20" font-size="9.5" text-anchor="end" font-weight="normal">3.5</text><line x1="273.40" y1="296.70" x2="275.40" y2="296.70" stroke="#3a3a3a" stroke-width="1.0"/><text x="269.30" y="300.86" font-size="9.5" text-anchor="end" font-weight="normal">3.0</text><line x1="273.40" y1="317.65" x2="275.40" y2="317.65" stroke="#3a3a3a" stroke-width="1.0"/><text x="269.30" y="321.51" font-size="9.5" text-anchor="end" font-weight="normal">2.5</text><line x1="273.40" y1="338.60" x2="275.40" y2="338.60" stroke="#3a3a3a" stroke-width="1.0"/><text x="269.30" y="342.16" font-size="9.5" text-anchor="end" font-weight="normal">2.0</text><line x1="273.40" y1="359.55" x2="275.40" y2="359.55" stroke="#3a3a3a" stroke-width="1.0"/><text x="269.30" y="362.82" font-size="9.5" text-anchor="end" font-weight="normal">1.5</text><line x1="273.40" y1="380.50" x2="275.40" y2="380.50" stroke="#3a3a3a" stroke-width="1.0"/><text x="269.30" y="383.48" font-size="9.5" text-anchor="end" font-weight="normal">1.0</text><line x1="273.40" y1="401.45" x2="275.40" y2="401.45" stroke="#3a3a3a" stroke-width="1.0"/><text x="269.30" y="404.13" font-size="9.5" text-anchor="end" font-weight="normal">0.5</text><line x1="273.40" y1="422.40" x2="275.40" y2="422.40" stroke="#3a3a3a" stroke-width="1.0"/><text x="269.30" y="424.78" font-size="9.5" text-anchor="end" font-weight="normal">0</text><line x1="273.40" y1="443.35" x2="275.40" y2="443.35" stroke="#3a3a3a" stroke-width="1.0"/><text x="269.30" y="445.44" font-size="9.5" text-anchor="end" font-weight="normal">–0.5</text><line x1="273.40" y1="464.30" x2="275.40" y2="464.30" stroke="#3a3a3a" stroke-width="1.0"/><text x="269.30" y="466.10" font-size="9.5" text-anchor="end" font-weight="normal">–1.0</text><line x1="275.50" y1="422.40" x2="275.50" y2="424.00" stroke="#3a3a3a" stroke-width="1.0"/><line x1="293.86" y1="422.40" x2="293.86" y2="424.00" stroke="#3a3a3a" stroke-width="1.0"/><text x="292.30" y="433.00" font-size="9.5" text-anchor="middle" font-weight="normal">0.2</text><line x1="312.22" y1="422.40" x2="312.22" y2="424.00" stroke="#3a3a3a" stroke-width="1.0"/><text x="310.80" y="433.00" font-size="9.5" text-anchor="middle" font-weight="normal">0.4</text><line x1="330.58" y1="422.40" x2="330.58" y2="424.00" stroke="#3a3a3a" stroke-width="1.0"/><text x="329.30" y="433.00" font-size="9.5" text-anchor="middle" font-weight="normal">0.6</text><line x1="348.94" y1="422.40" x2="348.94" y2="424.00" stroke="#3a3a3a" stroke-width="1.0"/><text x="347.90" y="433.00" font-size="9.5" text-anchor="middle" font-weight="normal">0.8</text><line x1="367.30" y1="422.40" x2="367.30" y2="424.00" stroke="#3a3a3a" stroke-width="1.0"/><text x="366.30" y="433.00" font-size="9.5" text-anchor="middle" font-weight="normal">1.0</text><line x1="385.66" y1="422.40" x2="385.66" y2="424.00" stroke="#3a3a3a" stroke-width="1.0"/><text x="384.70" y="433.00" font-size="9.5" text-anchor="middle" font-weight="normal">1.2</text><line x1="404.02" y1="422.40" x2="404.02" y2="424.00" stroke="#3a3a3a" stroke-width="1.0"/><text x="402.20" y="433.00" font-size="9.5" text-anchor="middle" font-weight="normal">1.4</text><line x1="422.38" y1="422.40" x2="422.38" y2="424.00" stroke="#3a3a3a" stroke-width="1.0"/><text x="421.80" y="433.00" font-size="9.5" text-anchor="middle" font-weight="normal">1.6</text><line x1="440.74" y1="422.40" x2="440.74" y2="424.00" stroke="#3a3a3a" stroke-width="1.0"/><text x="440.70" y="433.00" font-size="9.5" text-anchor="middle" font-weight="normal">1.8</text><text x="302.30" y="453.70" font-size="9.5" text-anchor="start" font-weight="normal" textLength="126.5" lengthAdjust="spacingAndGlyphs">log(<tspan font-style="italic">x</tspan>+1) <tspan font-style="italic">M. pectinata</tspan> intensity</text><text transform="translate(245.50,419.10) rotate(-90)" font-size="9.5" textLength="119.7" lengthAdjust="spacingAndGlyphs">log(<tspan font-style="italic">x</tspan>) G. <tspan font-style="italic">strigosum</tspan>  intensity</text><line x1="275.60" y1="365.80" x2="439.60" y2="376.90" stroke="#111" stroke-width="1.0"/><text x="484.40" y="267.20" font-size="10" text-anchor="start" font-weight="bold">f</text><line x1="519.70" y1="261.30" x2="519.70" y2="427.80" stroke="#3a3a3a" stroke-width="1.0"/><line x1="519.70" y1="427.80" x2="683.30" y2="427.80" stroke="#3a3a3a" stroke-width="1.0"/><line x1="517.70" y1="261.30" x2="519.70" y2="261.30" stroke="#3a3a3a" stroke-width="1.0"/><text x="515.00" y="265.00" font-size="9.5" text-anchor="end" font-weight="normal">2.5</text><line x1="517.70" y1="294.60" x2="519.70" y2="294.60" stroke="#3a3a3a" stroke-width="1.0"/><text x="515.00" y="298.28" font-size="9.5" text-anchor="end" font-weight="normal">2.0</text><line x1="517.70" y1="327.90" x2="519.70" y2="327.90" stroke="#3a3a3a" stroke-width="1.0"/><text x="515.00" y="331.56" font-size="9.5" text-anchor="end" font-weight="normal">1.5</text><line x1="517.70" y1="361.20" x2="519.70" y2="361.20" stroke="#3a3a3a" stroke-width="1.0"/><text x="515.00" y="364.84" font-size="9.5" text-anchor="end" font-weight="normal">1.0</text><line x1="517.70" y1="394.50" x2="519.70" y2="394.50" stroke="#3a3a3a" stroke-width="1.0"/><text x="515.00" y="398.12" font-size="9.5" text-anchor="end" font-weight="normal">0.5</text><line x1="517.70" y1="427.80" x2="519.70" y2="427.80" stroke="#3a3a3a" stroke-width="1.0"/><text x="515.00" y="431.40" font-size="9.5" text-anchor="end" font-weight="normal">0</text><line x1="519.70" y1="427.80" x2="519.70" y2="429.40" stroke="#3a3a3a" stroke-width="1.0"/><line x1="601.50" y1="427.80" x2="601.50" y2="429.40" stroke="#3a3a3a" stroke-width="1.0"/><line x1="683.30" y1="427.80" x2="683.30" y2="429.40" stroke="#3a3a3a" stroke-width="1.0"/><text x="567.10" y="437.70" font-size="9.5" text-anchor="middle" font-weight="normal" textLength="29.4" lengthAdjust="spacingAndGlyphs">Absent</text><text x="649.00" y="437.70" font-size="9.5" text-anchor="middle" font-weight="normal" textLength="32.6" lengthAdjust="spacingAndGlyphs">Present</text><text x="562.70" y="455.80" font-size="9.5" text-anchor="start" font-weight="normal" textLength="70.0" lengthAdjust="spacingAndGlyphs"><tspan font-style="italic">T. retortaeformis</tspan></text><text x="510.80" y="465.90" font-size="9.5" text-anchor="start" font-weight="normal" textLength="173.6" lengthAdjust="spacingAndGlyphs">(with model covariates centred at means)</text><text transform="translate(492.60,404.40) rotate(-90)" font-size="9.5" textLength="117.3" lengthAdjust="spacingAndGlyphs">log(<tspan font-style="italic">x</tspan>) G. <tspan font-style="italic">strigosum</tspan> intensity</text><line x1="560.50" y1="280.50" x2="560.50" y2="370.90" stroke="#222" stroke-width="1.0"/><line x1="559.20" y1="280.50" x2="561.80" y2="280.50" stroke="#222" stroke-width="0.8"/><line x1="559.20" y1="370.90" x2="561.80" y2="370.90" stroke="#222" stroke-width="0.8"/><line x1="642.20" y1="382.00" x2="642.20" y2="421.60" stroke="#222" stroke-width="1.0"/><line x1="640.90" y1="382.00" x2="643.50" y2="382.00" stroke="#222" stroke-width="0.8"/><line x1="640.90" y1="421.60" x2="643.50" y2="421.60" stroke="#222" stroke-width="0.8"/><line x1="560.50" y1="325.90" x2="642.20" y2="401.50" stroke="#111" stroke-width="1.1"/><circle cx="560.5" cy="325.9" r="1.9" fill="#000"/><circle cx="642.2" cy="401.5" r="1.9" fill="#000"/>
<rect x="34.30" y="47.00" width="2.6" height="149.00" fill="#b8b8b8"/><rect x="34.95" y="47.00" width="1.3" height="149.00" fill="#5c5c5c"/><rect x="498.20" y="68.50" width="2.0" height="137.40" fill="#c8c8c8"/><rect x="498.70" y="68.50" width="1.0" height="137.40" fill="#6a6a6a"/><rect x="38.50" y="292.00" width="2.6" height="155.50" fill="#b8b8b8"/><rect x="39.15" y="292.00" width="1.3" height="155.50" fill="#5c5c5c"/><rect x="274.40" y="300.50" width="2.6" height="121.50" fill="#b8b8b8"/><rect x="275.05" y="300.50" width="1.3" height="121.50" fill="#5c5c5c"/>
</svg>
</body></html>
